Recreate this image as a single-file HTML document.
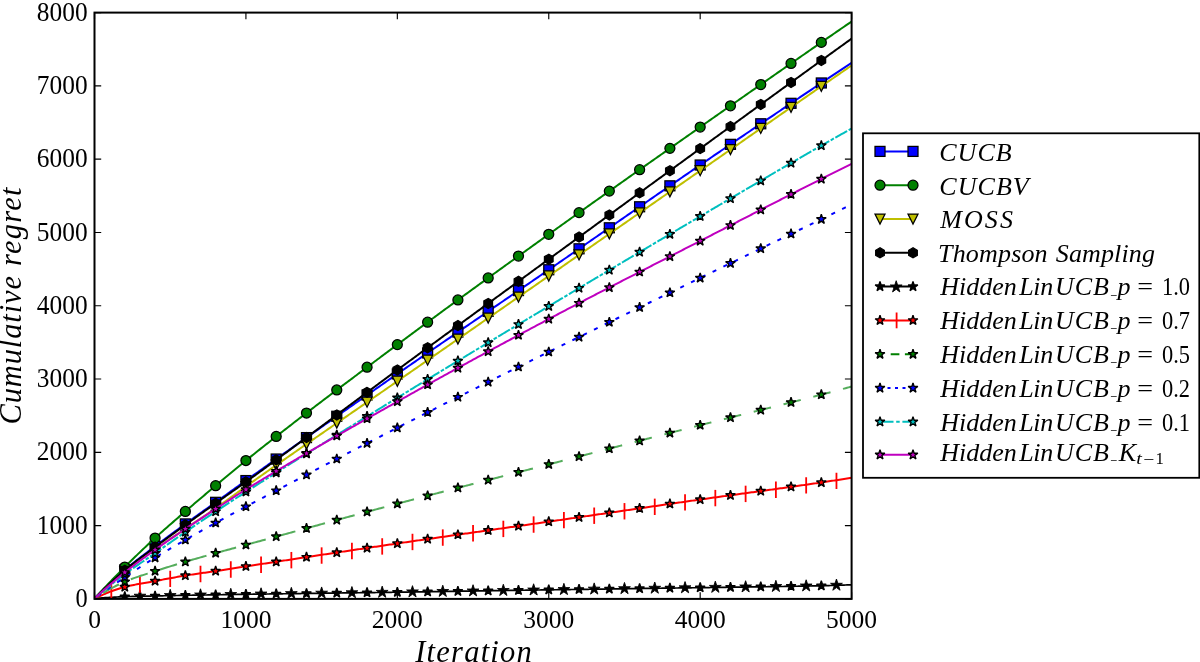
<!DOCTYPE html>
<html><head><meta charset="utf-8"><title>Cumulative regret</title>
<style>
html,body{margin:0;padding:0;background:#fff;}
body{width:1200px;height:662px;overflow:hidden;}
svg{display:block;}
svg text{font-family:"Liberation Serif","DejaVu Serif",serif;fill:#000;}
</style></head><body>
<svg width="1200" height="662" viewBox="0 0 1200 662">
<rect width="1200" height="662" fill="#fff"/>
<defs><clipPath id="ax"><rect x="94.5" y="12.6" width="757.1" height="586.3"/></clipPath></defs>
<g clip-path="url(#ax)">
<polyline points="94.5,598.5 96.01,596.95 97.53,595.42 99.04,593.89 100.56,592.38 102.07,590.88 103.59,589.39 105.1,587.92 106.61,586.45 108.13,585 109.64,583.56 111.16,582.14 112.67,580.73 114.18,579.33 115.7,577.94 117.21,576.57 118.73,575.22 120.24,573.87 121.76,572.55 123.27,571.23 124.78,569.93 126.3,568.65 127.81,567.39 129.33,566.14 130.84,564.91 132.35,563.69 133.87,562.49 135.38,561.3 136.9,560.12 138.41,558.95 139.93,557.78 141.44,556.63 142.95,555.48 144.47,554.33 145.98,553.19 147.5,552.05 149.01,550.91 150.53,549.78 152.04,548.64 153.55,547.49 155.07,546.35 156.58,545.2 158.1,544.05 159.61,542.91 161.12,541.78 162.64,540.64 164.15,539.51 165.67,538.38 167.18,537.26 168.7,536.14 170.21,535.02 171.72,533.9 173.24,532.78 174.75,531.67 176.27,530.56 177.78,529.45 179.3,528.34 180.81,527.24 182.32,526.13 183.84,525.03 185.35,523.93 186.87,522.83 188.38,521.74 189.89,520.65 191.41,519.56 192.92,518.48 194.44,517.4 195.95,516.32 197.47,515.24 198.98,514.16 200.49,513.09 202.01,512.01 203.52,510.94 205.04,509.87 206.55,508.79 208.06,507.72 209.58,506.64 211.09,505.56 212.61,504.49 214.12,503.41 215.64,502.32 217.15,501.24 218.66,500.15 220.18,499.06 221.69,497.98 223.21,496.89 224.72,495.8 226.24,494.71 227.75,493.62 229.26,492.52 230.78,491.43 232.29,490.34 233.81,489.25 235.32,488.16 236.83,487.07 238.35,485.99 239.86,484.9 241.38,483.81 242.89,482.73 244.41,481.65 245.92,480.57 247.43,479.49 248.95,478.41 250.46,477.33 251.98,476.25 253.49,475.17 255.01,474.1 256.52,473.02 258.03,471.94 259.55,470.86 261.06,469.79 262.58,468.71 264.09,467.63 265.6,466.56 267.12,465.48 268.63,464.41 270.15,463.33 271.66,462.26 273.18,461.18 274.69,460.11 276.2,459.03 277.72,457.96 279.23,456.88 280.75,455.81 282.26,454.74 283.77,453.66 285.29,452.59 286.8,451.52 288.32,450.45 289.83,449.37 291.35,448.3 292.86,447.23 294.37,446.16 295.89,445.09 297.4,444.02 298.92,442.95 300.43,441.88 301.95,440.81 303.46,439.74 304.97,438.67 306.49,437.6 308,436.53 309.52,435.46 311.03,434.39 312.54,433.33 314.06,432.26 315.57,431.19 317.09,430.12 318.6,429.06 320.12,427.99 321.63,426.92 323.14,425.86 324.66,424.79 326.17,423.72 327.69,422.66 329.2,421.59 330.72,420.53 332.23,419.46 333.74,418.4 335.26,417.34 336.77,416.27 338.29,415.21 339.8,414.14 341.31,413.08 342.83,412.02 344.34,410.95 345.86,409.89 347.37,408.83 348.89,407.77 350.4,406.71 351.91,405.64 353.43,404.58 354.94,403.52 356.46,402.46 357.97,401.4 359.49,400.34 361,399.28 362.51,398.22 364.03,397.16 365.54,396.1 367.06,395.04 368.57,393.98 370.08,392.93 371.6,391.87 373.11,390.81 374.63,389.75 376.14,388.69 377.66,387.64 379.17,386.58 380.68,385.52 382.2,384.47 383.71,383.41 385.23,382.35 386.74,381.3 388.25,380.24 389.77,379.19 391.28,378.13 392.8,377.08 394.31,376.02 395.83,374.97 397.34,373.92 398.85,372.86 400.37,371.81 401.88,370.76 403.4,369.7 404.91,368.65 406.43,367.6 407.94,366.55 409.45,365.5 410.97,364.45 412.48,363.4 414,362.35 415.51,361.31 417.02,360.26 418.54,359.21 420.05,358.16 421.57,357.12 423.08,356.07 424.6,355.03 426.11,353.98 427.62,352.94 429.14,351.89 430.65,350.85 432.17,349.8 433.68,348.76 435.19,347.72 436.71,346.67 438.22,345.63 439.74,344.59 441.25,343.55 442.77,342.5 444.28,341.46 445.79,340.42 447.31,339.38 448.82,338.34 450.34,337.3 451.85,336.26 453.37,335.22 454.88,334.18 456.39,333.14 457.91,332.1 459.42,331.06 460.94,330.02 462.45,328.98 463.96,327.95 465.48,326.91 466.99,325.87 468.51,324.83 470.02,323.79 471.54,322.76 473.05,321.72 474.56,320.68 476.08,319.64 477.59,318.6 479.11,317.57 480.62,316.53 482.14,315.49 483.65,314.45 485.16,313.42 486.68,312.38 488.19,311.34 489.71,310.31 491.22,309.27 492.73,308.23 494.25,307.19 495.76,306.16 497.28,305.12 498.79,304.08 500.31,303.04 501.82,302.01 503.33,300.97 504.85,299.93 506.36,298.89 507.88,297.85 509.39,296.82 510.9,295.78 512.42,294.74 513.93,293.7 515.45,292.66 516.96,291.62 518.48,290.58 519.99,289.55 521.5,288.51 523.02,287.47 524.53,286.43 526.05,285.39 527.56,284.35 529.08,283.31 530.59,282.26 532.1,281.22 533.62,280.18 535.13,279.14 536.65,278.1 538.16,277.06 539.67,276.02 541.19,274.97 542.7,273.93 544.22,272.89 545.73,271.84 547.25,270.8 548.76,269.75 550.27,268.71 551.79,267.66 553.3,266.62 554.82,265.57 556.33,264.53 557.85,263.48 559.36,262.43 560.87,261.39 562.39,260.34 563.9,259.29 565.42,258.24 566.93,257.2 568.44,256.15 569.96,255.1 571.47,254.05 572.99,253 574.5,251.95 576.02,250.9 577.53,249.85 579.04,248.81 580.56,247.76 582.07,246.71 583.59,245.66 585.1,244.6 586.62,243.55 588.13,242.5 589.64,241.45 591.16,240.4 592.67,239.35 594.19,238.3 595.7,237.25 597.21,236.2 598.73,235.15 600.24,234.1 601.76,233.04 603.27,231.99 604.79,230.94 606.3,229.89 607.81,228.84 609.33,227.79 610.84,226.74 612.36,225.68 613.87,224.63 615.38,223.58 616.9,222.53 618.41,221.48 619.93,220.43 621.44,219.38 622.96,218.32 624.47,217.27 625.98,216.22 627.5,215.17 629.01,214.12 630.53,213.07 632.04,212.02 633.56,210.97 635.07,209.92 636.58,208.87 638.1,207.82 639.61,206.77 641.13,205.72 642.64,204.67 644.15,203.62 645.67,202.57 647.18,201.52 648.7,200.47 650.21,199.42 651.73,198.38 653.24,197.33 654.75,196.28 656.27,195.23 657.78,194.19 659.3,193.14 660.81,192.09 662.33,191.05 663.84,190 665.35,188.95 666.87,187.91 668.38,186.86 669.9,185.82 671.41,184.77 672.92,183.73 674.44,182.69 675.95,181.64 677.47,180.6 678.98,179.56 680.5,178.51 682.01,177.47 683.52,176.43 685.04,175.39 686.55,174.35 688.07,173.31 689.58,172.27 691.09,171.23 692.61,170.19 694.12,169.15 695.64,168.12 697.15,167.08 698.67,166.04 700.18,165.01 701.69,163.97 703.21,162.94 704.72,161.9 706.24,160.86 707.75,159.83 709.27,158.8 710.78,157.76 712.29,156.73 713.81,155.69 715.32,154.66 716.84,153.63 718.35,152.59 719.86,151.56 721.38,150.53 722.89,149.5 724.41,148.46 725.92,147.43 727.44,146.4 728.95,145.37 730.46,144.34 731.98,143.31 733.49,142.28 735.01,141.25 736.52,140.22 738.03,139.19 739.55,138.16 741.06,137.13 742.58,136.1 744.09,135.07 745.61,134.04 747.12,133.01 748.63,131.98 750.15,130.96 751.66,129.93 753.18,128.9 754.69,127.88 756.21,126.85 757.72,125.82 759.23,124.8 760.75,123.77 762.26,122.75 763.78,121.72 765.29,120.7 766.8,119.67 768.32,118.65 769.83,117.62 771.35,116.6 772.86,115.57 774.38,114.55 775.89,113.53 777.4,112.51 778.92,111.48 780.43,110.46 781.95,109.44 783.46,108.42 784.98,107.4 786.49,106.37 788,105.35 789.52,104.33 791.03,103.31 792.55,102.29 794.06,101.27 795.57,100.25 797.09,99.23 798.6,98.22 800.12,97.2 801.63,96.18 803.15,95.16 804.66,94.14 806.17,93.13 807.69,92.11 809.2,91.09 810.72,90.07 812.23,89.06 813.75,88.04 815.26,87.03 816.77,86.01 818.29,85 819.8,83.98 821.32,82.97 822.83,81.95 824.34,80.94 825.86,79.93 827.37,78.92 828.89,77.91 830.4,76.9 831.92,75.89 833.43,74.88 834.94,73.87 836.46,72.87 837.97,71.86 839.49,70.86 841,69.85 842.51,68.85 844.03,67.84 845.54,66.84 847.06,65.83 848.57,64.83 850.09,63.83 851.6,62.82" fill="none" stroke="#0000ff" stroke-width="2.0"/>
<rect x="119.78" y="564.93" width="10" height="10" fill="#0000ff" stroke="#000" stroke-width="1.25"/><rect x="150.07" y="541.35" width="10" height="10" fill="#0000ff" stroke="#000" stroke-width="1.25"/><rect x="180.35" y="518.93" width="10" height="10" fill="#0000ff" stroke="#000" stroke-width="1.25"/><rect x="210.64" y="497.32" width="10" height="10" fill="#0000ff" stroke="#000" stroke-width="1.25"/><rect x="240.92" y="475.57" width="10" height="10" fill="#0000ff" stroke="#000" stroke-width="1.25"/><rect x="271.2" y="454.03" width="10" height="10" fill="#0000ff" stroke="#000" stroke-width="1.25"/><rect x="301.49" y="432.6" width="10" height="10" fill="#0000ff" stroke="#000" stroke-width="1.25"/><rect x="331.77" y="411.27" width="10" height="10" fill="#0000ff" stroke="#000" stroke-width="1.25"/><rect x="362.06" y="390.04" width="10" height="10" fill="#0000ff" stroke="#000" stroke-width="1.25"/><rect x="392.34" y="368.92" width="10" height="10" fill="#0000ff" stroke="#000" stroke-width="1.25"/><rect x="422.62" y="347.94" width="10" height="10" fill="#0000ff" stroke="#000" stroke-width="1.25"/><rect x="452.91" y="327.1" width="10" height="10" fill="#0000ff" stroke="#000" stroke-width="1.25"/><rect x="483.19" y="306.34" width="10" height="10" fill="#0000ff" stroke="#000" stroke-width="1.25"/><rect x="513.48" y="285.58" width="10" height="10" fill="#0000ff" stroke="#000" stroke-width="1.25"/><rect x="543.76" y="264.75" width="10" height="10" fill="#0000ff" stroke="#000" stroke-width="1.25"/><rect x="574.04" y="243.81" width="10" height="10" fill="#0000ff" stroke="#000" stroke-width="1.25"/><rect x="604.33" y="222.79" width="10" height="10" fill="#0000ff" stroke="#000" stroke-width="1.25"/><rect x="634.61" y="201.77" width="10" height="10" fill="#0000ff" stroke="#000" stroke-width="1.25"/><rect x="664.9" y="180.82" width="10" height="10" fill="#0000ff" stroke="#000" stroke-width="1.25"/><rect x="695.18" y="160.01" width="10" height="10" fill="#0000ff" stroke="#000" stroke-width="1.25"/><rect x="725.46" y="139.34" width="10" height="10" fill="#0000ff" stroke="#000" stroke-width="1.25"/><rect x="755.75" y="118.77" width="10" height="10" fill="#0000ff" stroke="#000" stroke-width="1.25"/><rect x="786.03" y="98.31" width="10" height="10" fill="#0000ff" stroke="#000" stroke-width="1.25"/><rect x="816.32" y="77.97" width="10" height="10" fill="#0000ff" stroke="#000" stroke-width="1.25"/>
<polyline points="94.5,598.5 96.01,596.87 97.53,595.24 99.04,593.62 100.56,592 102.07,590.39 103.59,588.79 105.1,587.19 106.61,585.6 108.13,584.01 109.64,582.43 111.16,580.86 112.67,579.3 114.18,577.74 115.7,576.18 117.21,574.64 118.73,573.1 120.24,571.56 121.76,570.04 123.27,568.52 124.78,567 126.3,565.5 127.81,563.99 129.33,562.5 130.84,561.01 132.35,559.52 133.87,558.05 135.38,556.57 136.9,555.11 138.41,553.65 139.93,552.19 141.44,550.74 142.95,549.3 144.47,547.87 145.98,546.44 147.5,545.01 149.01,543.6 150.53,542.19 152.04,540.78 153.55,539.39 155.07,538 156.58,536.61 158.1,535.24 159.61,533.87 161.12,532.52 162.64,531.16 164.15,529.82 165.67,528.48 167.18,527.15 168.7,525.82 170.21,524.5 171.72,523.18 173.24,521.87 174.75,520.55 176.27,519.24 177.78,517.94 179.3,516.63 180.81,515.32 182.32,514.02 183.84,512.71 185.35,511.41 186.87,510.1 188.38,508.8 189.89,507.5 191.41,506.2 192.92,504.91 194.44,503.61 195.95,502.32 197.47,501.03 198.98,499.75 200.49,498.46 202.01,497.18 203.52,495.9 205.04,494.62 206.55,493.34 208.06,492.07 209.58,490.79 211.09,489.52 212.61,488.24 214.12,486.97 215.64,485.69 217.15,484.42 218.66,483.15 220.18,481.87 221.69,480.6 223.21,479.32 224.72,478.05 226.24,476.77 227.75,475.5 229.26,474.23 230.78,472.96 232.29,471.7 233.81,470.43 235.32,469.17 236.83,467.92 238.35,466.67 239.86,465.42 241.38,464.18 242.89,462.95 244.41,461.72 245.92,460.5 247.43,459.28 248.95,458.06 250.46,456.85 251.98,455.64 253.49,454.43 255.01,453.22 256.52,452.01 258.03,450.81 259.55,449.6 261.06,448.4 262.58,447.2 264.09,446 265.6,444.8 267.12,443.61 268.63,442.41 270.15,441.22 271.66,440.03 273.18,438.84 274.69,437.65 276.2,436.46 277.72,435.28 279.23,434.1 280.75,432.91 282.26,431.73 283.77,430.55 285.29,429.37 286.8,428.2 288.32,427.02 289.83,425.85 291.35,424.67 292.86,423.5 294.37,422.33 295.89,421.16 297.4,419.99 298.92,418.83 300.43,417.66 301.95,416.5 303.46,415.33 304.97,414.17 306.49,413.01 308,411.85 309.52,410.69 311.03,409.53 312.54,408.38 314.06,407.22 315.57,406.06 317.09,404.91 318.6,403.76 320.12,402.6 321.63,401.45 323.14,400.3 324.66,399.15 326.17,398 327.69,396.86 329.2,395.71 330.72,394.56 332.23,393.42 333.74,392.27 335.26,391.13 336.77,389.98 338.29,388.84 339.8,387.7 341.31,386.56 342.83,385.42 344.34,384.28 345.86,383.14 347.37,382 348.89,380.86 350.4,379.72 351.91,378.58 353.43,377.45 354.94,376.31 356.46,375.18 357.97,374.04 359.49,372.9 361,371.77 362.51,370.64 364.03,369.5 365.54,368.37 367.06,367.24 368.57,366.1 370.08,364.97 371.6,363.84 373.11,362.71 374.63,361.57 376.14,360.44 377.66,359.31 379.17,358.18 380.68,357.05 382.2,355.92 383.71,354.79 385.23,353.66 386.74,352.53 388.25,351.4 389.77,350.27 391.28,349.14 392.8,348.01 394.31,346.88 395.83,345.75 397.34,344.62 398.85,343.49 400.37,342.36 401.88,341.23 403.4,340.1 404.91,338.97 406.43,337.85 407.94,336.72 409.45,335.6 410.97,334.47 412.48,333.35 414,332.23 415.51,331.11 417.02,329.98 418.54,328.86 420.05,327.74 421.57,326.63 423.08,325.51 424.6,324.39 426.11,323.27 427.62,322.16 429.14,321.04 430.65,319.92 432.17,318.81 433.68,317.7 435.19,316.58 436.71,315.47 438.22,314.36 439.74,313.25 441.25,312.13 442.77,311.02 444.28,309.91 445.79,308.8 447.31,307.7 448.82,306.59 450.34,305.48 451.85,304.37 453.37,303.27 454.88,302.16 456.39,301.05 457.91,299.95 459.42,298.84 460.94,297.74 462.45,296.64 463.96,295.53 465.48,294.43 466.99,293.33 468.51,292.23 470.02,291.13 471.54,290.02 473.05,288.92 474.56,287.82 476.08,286.72 477.59,285.62 479.11,284.53 480.62,283.43 482.14,282.33 483.65,281.23 485.16,280.13 486.68,279.04 488.19,277.94 489.71,276.85 491.22,275.75 492.73,274.65 494.25,273.56 495.76,272.46 497.28,271.37 498.79,270.28 500.31,269.18 501.82,268.09 503.33,266.99 504.85,265.9 506.36,264.81 507.88,263.72 509.39,262.62 510.9,261.53 512.42,260.44 513.93,259.35 515.45,258.26 516.96,257.17 518.48,256.08 519.99,254.99 521.5,253.9 523.02,252.81 524.53,251.72 526.05,250.63 527.56,249.54 529.08,248.45 530.59,247.36 532.1,246.27 533.62,245.18 535.13,244.09 536.65,243 538.16,241.92 539.67,240.83 541.19,239.74 542.7,238.65 544.22,237.56 545.73,236.48 547.25,235.39 548.76,234.3 550.27,233.21 551.79,232.13 553.3,231.04 554.82,229.95 556.33,228.87 557.85,227.78 559.36,226.7 560.87,225.61 562.39,224.53 563.9,223.45 565.42,222.36 566.93,221.28 568.44,220.2 569.96,219.12 571.47,218.04 572.99,216.96 574.5,215.88 576.02,214.8 577.53,213.72 579.04,212.64 580.56,211.56 582.07,210.48 583.59,209.4 585.1,208.32 586.62,207.24 588.13,206.17 589.64,205.09 591.16,204.01 592.67,202.94 594.19,201.86 595.7,200.79 597.21,199.71 598.73,198.63 600.24,197.56 601.76,196.49 603.27,195.41 604.79,194.34 606.3,193.26 607.81,192.19 609.33,191.12 610.84,190.04 612.36,188.97 613.87,187.9 615.38,186.83 616.9,185.76 618.41,184.69 619.93,183.61 621.44,182.54 622.96,181.47 624.47,180.4 625.98,179.33 627.5,178.26 629.01,177.19 630.53,176.12 632.04,175.05 633.56,173.98 635.07,172.91 636.58,171.85 638.1,170.78 639.61,169.71 641.13,168.64 642.64,167.57 644.15,166.5 645.67,165.44 647.18,164.37 648.7,163.3 650.21,162.23 651.73,161.17 653.24,160.1 654.75,159.03 656.27,157.97 657.78,156.9 659.3,155.83 660.81,154.77 662.33,153.7 663.84,152.63 665.35,151.57 666.87,150.5 668.38,149.43 669.9,148.37 671.41,147.3 672.92,146.24 674.44,145.17 675.95,144.11 677.47,143.04 678.98,141.98 680.5,140.91 682.01,139.84 683.52,138.78 685.04,137.71 686.55,136.65 688.07,135.58 689.58,134.52 691.09,133.45 692.61,132.39 694.12,131.32 695.64,130.26 697.15,129.19 698.67,128.13 700.18,127.06 701.69,126 703.21,124.93 704.72,123.87 706.24,122.8 707.75,121.74 709.27,120.67 710.78,119.61 712.29,118.55 713.81,117.48 715.32,116.42 716.84,115.35 718.35,114.29 719.86,113.23 721.38,112.16 722.89,111.1 724.41,110.04 725.92,108.97 727.44,107.91 728.95,106.85 730.46,105.79 731.98,104.72 733.49,103.66 735.01,102.6 736.52,101.54 738.03,100.48 739.55,99.41 741.06,98.35 742.58,97.29 744.09,96.23 745.61,95.17 747.12,94.11 748.63,93.05 750.15,91.99 751.66,90.93 753.18,89.87 754.69,88.81 756.21,87.75 757.72,86.69 759.23,85.63 760.75,84.57 762.26,83.51 763.78,82.45 765.29,81.39 766.8,80.34 768.32,79.28 769.83,78.22 771.35,77.16 772.86,76.1 774.38,75.05 775.89,73.99 777.4,72.93 778.92,71.88 780.43,70.82 781.95,69.76 783.46,68.71 784.98,67.65 786.49,66.6 788,65.54 789.52,64.49 791.03,63.43 792.55,62.38 794.06,61.32 795.57,60.27 797.09,59.21 798.6,58.16 800.12,57.11 801.63,56.05 803.15,55 804.66,53.95 806.17,52.9 807.69,51.84 809.2,50.79 810.72,49.74 812.23,48.69 813.75,47.64 815.26,46.59 816.77,45.54 818.29,44.49 819.8,43.44 821.32,42.39 822.83,41.34 824.34,40.29 825.86,39.24 827.37,38.19 828.89,37.15 830.4,36.1 831.92,35.06 833.43,34.01 834.94,32.97 836.46,31.93 837.97,30.88 839.49,29.84 841,28.8 842.51,27.76 844.03,26.72 845.54,25.67 847.06,24.63 848.57,23.59 850.09,22.55 851.6,21.51" fill="none" stroke="#008000" stroke-width="2.0"/>
<circle cx="124.78" cy="567" r="5" fill="#008000" stroke="#000" stroke-width="1.25"/><circle cx="155.07" cy="538" r="5" fill="#008000" stroke="#000" stroke-width="1.25"/><circle cx="185.35" cy="511.41" r="5" fill="#008000" stroke="#000" stroke-width="1.25"/><circle cx="215.64" cy="485.69" r="5" fill="#008000" stroke="#000" stroke-width="1.25"/><circle cx="245.92" cy="460.5" r="5" fill="#008000" stroke="#000" stroke-width="1.25"/><circle cx="276.2" cy="436.46" r="5" fill="#008000" stroke="#000" stroke-width="1.25"/><circle cx="306.49" cy="413.01" r="5" fill="#008000" stroke="#000" stroke-width="1.25"/><circle cx="336.77" cy="389.98" r="5" fill="#008000" stroke="#000" stroke-width="1.25"/><circle cx="367.06" cy="367.24" r="5" fill="#008000" stroke="#000" stroke-width="1.25"/><circle cx="397.34" cy="344.62" r="5" fill="#008000" stroke="#000" stroke-width="1.25"/><circle cx="427.62" cy="322.16" r="5" fill="#008000" stroke="#000" stroke-width="1.25"/><circle cx="457.91" cy="299.95" r="5" fill="#008000" stroke="#000" stroke-width="1.25"/><circle cx="488.19" cy="277.94" r="5" fill="#008000" stroke="#000" stroke-width="1.25"/><circle cx="518.48" cy="256.08" r="5" fill="#008000" stroke="#000" stroke-width="1.25"/><circle cx="548.76" cy="234.3" r="5" fill="#008000" stroke="#000" stroke-width="1.25"/><circle cx="579.04" cy="212.64" r="5" fill="#008000" stroke="#000" stroke-width="1.25"/><circle cx="609.33" cy="191.12" r="5" fill="#008000" stroke="#000" stroke-width="1.25"/><circle cx="639.61" cy="169.71" r="5" fill="#008000" stroke="#000" stroke-width="1.25"/><circle cx="669.9" cy="148.37" r="5" fill="#008000" stroke="#000" stroke-width="1.25"/><circle cx="700.18" cy="127.06" r="5" fill="#008000" stroke="#000" stroke-width="1.25"/><circle cx="730.46" cy="105.79" r="5" fill="#008000" stroke="#000" stroke-width="1.25"/><circle cx="760.75" cy="84.57" r="5" fill="#008000" stroke="#000" stroke-width="1.25"/><circle cx="791.03" cy="63.43" r="5" fill="#008000" stroke="#000" stroke-width="1.25"/><circle cx="821.32" cy="42.39" r="5" fill="#008000" stroke="#000" stroke-width="1.25"/>
<polyline points="94.5,598.5 96.01,597.04 97.53,595.59 99.04,594.15 100.56,592.73 102.07,591.31 103.59,589.91 105.1,588.51 106.61,587.13 108.13,585.76 109.64,584.41 111.16,583.06 112.67,581.73 114.18,580.41 115.7,579.11 117.21,577.81 118.73,576.53 120.24,575.26 121.76,574.01 123.27,572.77 124.78,571.54 126.3,570.33 127.81,569.14 129.33,567.96 130.84,566.79 132.35,565.64 133.87,564.49 135.38,563.36 136.9,562.24 138.41,561.13 139.93,560.03 141.44,558.94 142.95,557.85 144.47,556.77 145.98,555.69 147.5,554.61 149.01,553.54 150.53,552.48 152.04,551.41 153.55,550.34 155.07,549.28 156.58,548.21 158.1,547.16 159.61,546.11 161.12,545.07 162.64,544.03 164.15,543 165.67,541.97 167.18,540.95 168.7,539.93 170.21,538.92 171.72,537.9 173.24,536.89 174.75,535.88 176.27,534.87 177.78,533.85 179.3,532.84 180.81,531.83 182.32,530.81 183.84,529.79 185.35,528.77 186.87,527.74 188.38,526.72 189.89,525.7 191.41,524.68 192.92,523.67 194.44,522.65 195.95,521.64 197.47,520.62 198.98,519.6 200.49,518.59 202.01,517.57 203.52,516.55 205.04,515.52 206.55,514.5 208.06,513.47 209.58,512.44 211.09,511.4 212.61,510.36 214.12,509.31 215.64,508.26 217.15,507.2 218.66,506.13 220.18,505.06 221.69,503.98 223.21,502.89 224.72,501.81 226.24,500.71 227.75,499.62 229.26,498.52 230.78,497.42 232.29,496.32 233.81,495.22 235.32,494.12 236.83,493.03 238.35,491.93 239.86,490.84 241.38,489.75 242.89,488.66 244.41,487.58 245.92,486.5 247.43,485.43 248.95,484.35 250.46,483.28 251.98,482.21 253.49,481.14 255.01,480.07 256.52,479 258.03,477.94 259.55,476.87 261.06,475.8 262.58,474.74 264.09,473.67 265.6,472.61 267.12,471.54 268.63,470.48 270.15,469.42 271.66,468.36 273.18,467.3 274.69,466.24 276.2,465.18 277.72,464.12 279.23,463.06 280.75,462 282.26,460.94 283.77,459.89 285.29,458.83 286.8,457.78 288.32,456.72 289.83,455.67 291.35,454.61 292.86,453.56 294.37,452.5 295.89,451.45 297.4,450.4 298.92,449.35 300.43,448.29 301.95,447.24 303.46,446.19 304.97,445.14 306.49,444.09 308,443.04 309.52,441.99 311.03,440.94 312.54,439.89 314.06,438.84 315.57,437.8 317.09,436.75 318.6,435.7 320.12,434.65 321.63,433.61 323.14,432.56 324.66,431.51 326.17,430.46 327.69,429.42 329.2,428.37 330.72,427.33 332.23,426.28 333.74,425.23 335.26,424.19 336.77,423.14 338.29,422.1 339.8,421.05 341.31,420 342.83,418.96 344.34,417.91 345.86,416.87 347.37,415.82 348.89,414.78 350.4,413.73 351.91,412.68 353.43,411.64 354.94,410.59 356.46,409.55 357.97,408.5 359.49,407.46 361,406.41 362.51,405.36 364.03,404.32 365.54,403.27 367.06,402.22 368.57,401.18 370.08,400.13 371.6,399.08 373.11,398.04 374.63,396.99 376.14,395.94 377.66,394.89 379.17,393.84 380.68,392.8 382.2,391.75 383.71,390.7 385.23,389.65 386.74,388.6 388.25,387.55 389.77,386.5 391.28,385.45 392.8,384.4 394.31,383.34 395.83,382.29 397.34,381.24 398.85,380.19 400.37,379.14 401.88,378.08 403.4,377.03 404.91,375.98 406.43,374.92 407.94,373.87 409.45,372.82 410.97,371.77 412.48,370.71 414,369.66 415.51,368.61 417.02,367.56 418.54,366.5 420.05,365.45 421.57,364.4 423.08,363.35 424.6,362.29 426.11,361.24 427.62,360.19 429.14,359.14 430.65,358.08 432.17,357.03 433.68,355.98 435.19,354.93 436.71,353.87 438.22,352.82 439.74,351.77 441.25,350.72 442.77,349.66 444.28,348.61 445.79,347.56 447.31,346.5 448.82,345.45 450.34,344.4 451.85,343.35 453.37,342.29 454.88,341.24 456.39,340.19 457.91,339.14 459.42,338.08 460.94,337.03 462.45,335.98 463.96,334.93 465.48,333.87 466.99,332.82 468.51,331.77 470.02,330.72 471.54,329.66 473.05,328.61 474.56,327.56 476.08,326.51 477.59,325.45 479.11,324.4 480.62,323.35 482.14,322.29 483.65,321.24 485.16,320.19 486.68,319.14 488.19,318.08 489.71,317.03 491.22,315.98 492.73,314.93 494.25,313.87 495.76,312.82 497.28,311.77 498.79,310.72 500.31,309.66 501.82,308.61 503.33,307.56 504.85,306.51 506.36,305.45 507.88,304.4 509.39,303.35 510.9,302.3 512.42,301.24 513.93,300.19 515.45,299.14 516.96,298.08 518.48,297.03 519.99,295.98 521.5,294.93 523.02,293.87 524.53,292.82 526.05,291.77 527.56,290.72 529.08,289.66 530.59,288.61 532.1,287.56 533.62,286.51 535.13,285.45 536.65,284.4 538.16,283.35 539.67,282.3 541.19,281.24 542.7,280.19 544.22,279.14 545.73,278.09 547.25,277.03 548.76,275.98 550.27,274.93 551.79,273.88 553.3,272.82 554.82,271.77 556.33,270.72 557.85,269.67 559.36,268.61 560.87,267.56 562.39,266.51 563.9,265.46 565.42,264.4 566.93,263.35 568.44,262.3 569.96,261.25 571.47,260.19 572.99,259.14 574.5,258.09 576.02,257.04 577.53,255.98 579.04,254.93 580.56,253.88 582.07,252.83 583.59,251.78 585.1,250.72 586.62,249.67 588.13,248.62 589.64,247.57 591.16,246.51 592.67,245.46 594.19,244.41 595.7,243.36 597.21,242.3 598.73,241.25 600.24,240.2 601.76,239.15 603.27,238.1 604.79,237.04 606.3,235.99 607.81,234.94 609.33,233.89 610.84,232.83 612.36,231.78 613.87,230.73 615.38,229.68 616.9,228.63 618.41,227.57 619.93,226.52 621.44,225.47 622.96,224.42 624.47,223.36 625.98,222.31 627.5,221.26 629.01,220.21 630.53,219.15 632.04,218.1 633.56,217.05 635.07,216 636.58,214.95 638.1,213.89 639.61,212.84 641.13,211.79 642.64,210.74 644.15,209.68 645.67,208.63 647.18,207.58 648.7,206.53 650.21,205.47 651.73,204.42 653.24,203.37 654.75,202.31 656.27,201.26 657.78,200.21 659.3,199.16 660.81,198.1 662.33,197.05 663.84,196 665.35,194.95 666.87,193.89 668.38,192.84 669.9,191.79 671.41,190.73 672.92,189.68 674.44,188.63 675.95,187.57 677.47,186.52 678.98,185.47 680.5,184.42 682.01,183.36 683.52,182.31 685.04,181.26 686.55,180.2 688.07,179.15 689.58,178.1 691.09,177.04 692.61,175.99 694.12,174.93 695.64,173.88 697.15,172.83 698.67,171.77 700.18,170.72 701.69,169.67 703.21,168.61 704.72,167.56 706.24,166.5 707.75,165.45 709.27,164.39 710.78,163.34 712.29,162.28 713.81,161.23 715.32,160.17 716.84,159.12 718.35,158.06 719.86,157.01 721.38,155.95 722.89,154.89 724.41,153.84 725.92,152.78 727.44,151.72 728.95,150.67 730.46,149.61 731.98,148.55 733.49,147.5 735.01,146.44 736.52,145.38 738.03,144.33 739.55,143.27 741.06,142.21 742.58,141.16 744.09,140.1 745.61,139.04 747.12,137.98 748.63,136.93 750.15,135.87 751.66,134.81 753.18,133.76 754.69,132.7 756.21,131.64 757.72,130.59 759.23,129.53 760.75,128.47 762.26,127.42 763.78,126.36 765.29,125.3 766.8,124.25 768.32,123.19 769.83,122.13 771.35,121.08 772.86,120.02 774.38,118.97 775.89,117.91 777.4,116.85 778.92,115.8 780.43,114.74 781.95,113.69 783.46,112.63 784.98,111.58 786.49,110.52 788,109.47 789.52,108.42 791.03,107.36 792.55,106.31 794.06,105.25 795.57,104.2 797.09,103.15 798.6,102.09 800.12,101.04 801.63,99.99 803.15,98.94 804.66,97.89 806.17,96.83 807.69,95.78 809.2,94.73 810.72,93.68 812.23,92.63 813.75,91.58 815.26,90.53 816.77,89.48 818.29,88.43 819.8,87.38 821.32,86.34 822.83,85.29 824.34,84.24 825.86,83.19 827.37,82.15 828.89,81.1 830.4,80.06 831.92,79.01 833.43,77.97 834.94,76.92 836.46,75.88 837.97,74.84 839.49,73.8 841,72.75 842.51,71.71 844.03,70.67 845.54,69.63 847.06,68.58 848.57,67.54 850.09,66.5 851.6,65.46" fill="none" stroke="#bfbf00" stroke-width="2.0"/>
<path d="M119.78 566.54L129.78 566.54L124.78 576.54Z" fill="#bfbf00" stroke="#000" stroke-width="1.25" stroke-linejoin="miter"/><path d="M150.07 544.28L160.07 544.28L155.07 554.28Z" fill="#bfbf00" stroke="#000" stroke-width="1.25" stroke-linejoin="miter"/><path d="M180.35 523.77L190.35 523.77L185.35 533.77Z" fill="#bfbf00" stroke="#000" stroke-width="1.25" stroke-linejoin="miter"/><path d="M210.64 503.26L220.64 503.26L215.64 513.26Z" fill="#bfbf00" stroke="#000" stroke-width="1.25" stroke-linejoin="miter"/><path d="M240.92 481.5L250.92 481.5L245.92 491.5Z" fill="#bfbf00" stroke="#000" stroke-width="1.25" stroke-linejoin="miter"/><path d="M271.2 460.18L281.2 460.18L276.2 470.18Z" fill="#bfbf00" stroke="#000" stroke-width="1.25" stroke-linejoin="miter"/><path d="M301.49 439.09L311.49 439.09L306.49 449.09Z" fill="#bfbf00" stroke="#000" stroke-width="1.25" stroke-linejoin="miter"/><path d="M331.77 418.14L341.77 418.14L336.77 428.14Z" fill="#bfbf00" stroke="#000" stroke-width="1.25" stroke-linejoin="miter"/><path d="M362.06 397.22L372.06 397.22L367.06 407.22Z" fill="#bfbf00" stroke="#000" stroke-width="1.25" stroke-linejoin="miter"/><path d="M392.34 376.24L402.34 376.24L397.34 386.24Z" fill="#bfbf00" stroke="#000" stroke-width="1.25" stroke-linejoin="miter"/><path d="M422.62 355.19L432.62 355.19L427.62 365.19Z" fill="#bfbf00" stroke="#000" stroke-width="1.25" stroke-linejoin="miter"/><path d="M452.91 334.14L462.91 334.14L457.91 344.14Z" fill="#bfbf00" stroke="#000" stroke-width="1.25" stroke-linejoin="miter"/><path d="M483.19 313.08L493.19 313.08L488.19 323.08Z" fill="#bfbf00" stroke="#000" stroke-width="1.25" stroke-linejoin="miter"/><path d="M513.48 292.03L523.48 292.03L518.48 302.03Z" fill="#bfbf00" stroke="#000" stroke-width="1.25" stroke-linejoin="miter"/><path d="M543.76 270.98L553.76 270.98L548.76 280.98Z" fill="#bfbf00" stroke="#000" stroke-width="1.25" stroke-linejoin="miter"/><path d="M574.04 249.93L584.04 249.93L579.04 259.93Z" fill="#bfbf00" stroke="#000" stroke-width="1.25" stroke-linejoin="miter"/><path d="M604.33 228.89L614.33 228.89L609.33 238.89Z" fill="#bfbf00" stroke="#000" stroke-width="1.25" stroke-linejoin="miter"/><path d="M634.61 207.84L644.61 207.84L639.61 217.84Z" fill="#bfbf00" stroke="#000" stroke-width="1.25" stroke-linejoin="miter"/><path d="M664.9 186.79L674.9 186.79L669.9 196.79Z" fill="#bfbf00" stroke="#000" stroke-width="1.25" stroke-linejoin="miter"/><path d="M695.18 165.72L705.18 165.72L700.18 175.72Z" fill="#bfbf00" stroke="#000" stroke-width="1.25" stroke-linejoin="miter"/><path d="M725.46 144.61L735.46 144.61L730.46 154.61Z" fill="#bfbf00" stroke="#000" stroke-width="1.25" stroke-linejoin="miter"/><path d="M755.75 123.47L765.75 123.47L760.75 133.47Z" fill="#bfbf00" stroke="#000" stroke-width="1.25" stroke-linejoin="miter"/><path d="M786.03 102.36L796.03 102.36L791.03 112.36Z" fill="#bfbf00" stroke="#000" stroke-width="1.25" stroke-linejoin="miter"/><path d="M816.32 81.34L826.32 81.34L821.32 91.34Z" fill="#bfbf00" stroke="#000" stroke-width="1.25" stroke-linejoin="miter"/>
<polyline points="94.5,598.5 96.01,596.97 97.53,595.45 99.04,593.95 100.56,592.45 102.07,590.97 103.59,589.5 105.1,588.04 106.61,586.6 108.13,585.17 109.64,583.75 111.16,582.34 112.67,580.95 114.18,579.57 115.7,578.2 117.21,576.85 118.73,575.51 120.24,574.19 121.76,572.88 123.27,571.58 124.78,570.3 126.3,569.03 127.81,567.79 129.33,566.56 130.84,565.35 132.35,564.15 133.87,562.97 135.38,561.8 136.9,560.64 138.41,559.49 139.93,558.34 141.44,557.21 142.95,556.08 144.47,554.95 145.98,553.83 147.5,552.7 149.01,551.58 150.53,550.46 152.04,549.34 153.55,548.21 155.07,547.08 156.58,545.95 158.1,544.82 159.61,543.69 161.12,542.57 162.64,541.45 164.15,540.33 165.67,539.21 167.18,538.1 168.7,536.99 170.21,535.88 171.72,534.78 173.24,533.67 174.75,532.57 176.27,531.47 177.78,530.37 179.3,529.27 180.81,528.17 182.32,527.07 183.84,525.98 185.35,524.88 186.87,523.79 188.38,522.7 189.89,521.61 191.41,520.52 192.92,519.44 194.44,518.35 195.95,517.27 197.47,516.19 198.98,515.11 200.49,514.03 202.01,512.95 203.52,511.87 205.04,510.8 206.55,509.72 208.06,508.65 209.58,507.57 211.09,506.5 212.61,505.42 214.12,504.35 215.64,503.27 217.15,502.2 218.66,501.13 220.18,500.06 221.69,499 223.21,497.93 224.72,496.87 226.24,495.8 227.75,494.74 229.26,493.68 230.78,492.61 232.29,491.55 233.81,490.49 235.32,489.42 236.83,488.35 238.35,487.28 239.86,486.21 241.38,485.13 242.89,484.05 244.41,482.97 245.92,481.89 247.43,480.8 248.95,479.71 250.46,478.62 251.98,477.52 253.49,476.43 255.01,475.33 256.52,474.24 258.03,473.14 259.55,472.04 261.06,470.94 262.58,469.84 264.09,468.74 265.6,467.63 267.12,466.53 268.63,465.42 270.15,464.31 271.66,463.21 273.18,462.1 274.69,460.99 276.2,459.88 277.72,458.77 279.23,457.65 280.75,456.54 282.26,455.43 283.77,454.31 285.29,453.2 286.8,452.08 288.32,450.96 289.83,449.85 291.35,448.73 292.86,447.61 294.37,446.49 295.89,445.37 297.4,444.24 298.92,443.12 300.43,442 301.95,440.88 303.46,439.75 304.97,438.63 306.49,437.51 308,436.38 309.52,435.25 311.03,434.13 312.54,433 314.06,431.88 315.57,430.75 317.09,429.62 318.6,428.49 320.12,427.36 321.63,426.24 323.14,425.11 324.66,423.98 326.17,422.85 327.69,421.72 329.2,420.59 330.72,419.46 332.23,418.33 333.74,417.2 335.26,416.07 336.77,414.94 338.29,413.81 339.8,412.68 341.31,411.55 342.83,410.42 344.34,409.29 345.86,408.16 347.37,407.03 348.89,405.9 350.4,404.78 351.91,403.65 353.43,402.52 354.94,401.39 356.46,400.26 357.97,399.13 359.49,398 361,396.88 362.51,395.75 364.03,394.62 365.54,393.5 367.06,392.37 368.57,391.24 370.08,390.12 371.6,388.99 373.11,387.87 374.63,386.74 376.14,385.62 377.66,384.5 379.17,383.38 380.68,382.25 382.2,381.13 383.71,380.01 385.23,378.89 386.74,377.77 388.25,376.65 389.77,375.54 391.28,374.42 392.8,373.3 394.31,372.19 395.83,371.07 397.34,369.96 398.85,368.85 400.37,367.73 401.88,366.62 403.4,365.51 404.91,364.4 406.43,363.28 407.94,362.17 409.45,361.06 410.97,359.95 412.48,358.84 414,357.73 415.51,356.61 417.02,355.5 418.54,354.39 420.05,353.28 421.57,352.17 423.08,351.06 424.6,349.95 426.11,348.84 427.62,347.73 429.14,346.62 430.65,345.51 432.17,344.4 433.68,343.3 435.19,342.19 436.71,341.08 438.22,339.97 439.74,338.86 441.25,337.75 442.77,336.64 444.28,335.54 445.79,334.43 447.31,333.32 448.82,332.21 450.34,331.1 451.85,330 453.37,328.89 454.88,327.78 456.39,326.67 457.91,325.57 459.42,324.46 460.94,323.35 462.45,322.25 463.96,321.14 465.48,320.03 466.99,318.93 468.51,317.82 470.02,316.71 471.54,315.61 473.05,314.5 474.56,313.39 476.08,312.29 477.59,311.18 479.11,310.08 480.62,308.97 482.14,307.86 483.65,306.76 485.16,305.65 486.68,304.55 488.19,303.44 489.71,302.34 491.22,301.23 492.73,300.12 494.25,299.02 495.76,297.91 497.28,296.81 498.79,295.7 500.31,294.6 501.82,293.49 503.33,292.38 504.85,291.28 506.36,290.17 507.88,289.07 509.39,287.96 510.9,286.86 512.42,285.75 513.93,284.65 515.45,283.54 516.96,282.43 518.48,281.33 519.99,280.22 521.5,279.12 523.02,278.01 524.53,276.91 526.05,275.8 527.56,274.69 529.08,273.59 530.59,272.48 532.1,271.38 533.62,270.27 535.13,269.16 536.65,268.06 538.16,266.95 539.67,265.85 541.19,264.74 542.7,263.63 544.22,262.53 545.73,261.42 547.25,260.31 548.76,259.21 550.27,258.1 551.79,256.99 553.3,255.89 554.82,254.78 556.33,253.67 557.85,252.56 559.36,251.46 560.87,250.35 562.39,249.24 563.9,248.14 565.42,247.03 566.93,245.92 568.44,244.82 569.96,243.71 571.47,242.6 572.99,241.5 574.5,240.39 576.02,239.28 577.53,238.17 579.04,237.07 580.56,235.96 582.07,234.85 583.59,233.75 585.1,232.64 586.62,231.53 588.13,230.43 589.64,229.32 591.16,228.21 592.67,227.1 594.19,226 595.7,224.89 597.21,223.78 598.73,222.68 600.24,221.57 601.76,220.46 603.27,219.36 604.79,218.25 606.3,217.14 607.81,216.04 609.33,214.93 610.84,213.82 612.36,212.72 613.87,211.61 615.38,210.5 616.9,209.4 618.41,208.29 619.93,207.18 621.44,206.08 622.96,204.97 624.47,203.86 625.98,202.76 627.5,201.65 629.01,200.54 630.53,199.44 632.04,198.33 633.56,197.23 635.07,196.12 636.58,195.01 638.1,193.91 639.61,192.8 641.13,191.69 642.64,190.59 644.15,189.48 645.67,188.38 647.18,187.27 648.7,186.16 650.21,185.06 651.73,183.95 653.24,182.85 654.75,181.74 656.27,180.64 657.78,179.53 659.3,178.42 660.81,177.32 662.33,176.21 663.84,175.11 665.35,174 666.87,172.9 668.38,171.79 669.9,170.69 671.41,169.58 672.92,168.48 674.44,167.37 675.95,166.27 677.47,165.16 678.98,164.06 680.5,162.95 682.01,161.85 683.52,160.74 685.04,159.64 686.55,158.53 688.07,157.43 689.58,156.33 691.09,155.22 692.61,154.12 694.12,153.01 695.64,151.91 697.15,150.81 698.67,149.7 700.18,148.6 701.69,147.49 703.21,146.39 704.72,145.29 706.24,144.18 707.75,143.08 709.27,141.98 710.78,140.87 712.29,139.77 713.81,138.66 715.32,137.56 716.84,136.46 718.35,135.35 719.86,134.25 721.38,133.14 722.89,132.04 724.41,130.94 725.92,129.83 727.44,128.73 728.95,127.62 730.46,126.52 731.98,125.42 733.49,124.31 735.01,123.21 736.52,122.11 738.03,121 739.55,119.9 741.06,118.8 742.58,117.69 744.09,116.59 745.61,115.49 747.12,114.38 748.63,113.28 750.15,112.18 751.66,111.07 753.18,109.97 754.69,108.87 756.21,107.76 757.72,106.66 759.23,105.56 760.75,104.46 762.26,103.35 763.78,102.25 765.29,101.15 766.8,100.05 768.32,98.95 769.83,97.84 771.35,96.74 772.86,95.64 774.38,94.54 775.89,93.44 777.4,92.34 778.92,91.23 780.43,90.13 781.95,89.03 783.46,87.93 784.98,86.83 786.49,85.73 788,84.63 789.52,83.53 791.03,82.43 792.55,81.33 794.06,80.23 795.57,79.13 797.09,78.03 798.6,76.94 800.12,75.84 801.63,74.74 803.15,73.64 804.66,72.54 806.17,71.44 807.69,70.35 809.2,69.25 810.72,68.15 812.23,67.06 813.75,65.96 815.26,64.86 816.77,63.77 818.29,62.67 819.8,61.57 821.32,60.48 822.83,59.38 824.34,58.29 825.86,57.2 827.37,56.1 828.89,55.01 830.4,53.92 831.92,52.82 833.43,51.73 834.94,50.64 836.46,49.55 837.97,48.46 839.49,47.37 841,46.28 842.51,45.19 844.03,44.1 845.54,43.01 847.06,41.92 848.57,40.83 850.09,39.74 851.6,38.65" fill="none" stroke="#000" stroke-width="2.0"/>
<path d="M124.78 565.3L120.45 567.8L120.45 572.8L124.78 575.3L129.11 572.8L129.11 567.8Z" fill="#000" stroke="#000" stroke-width="1.25"/><path d="M155.07 542.08L150.74 544.58L150.74 549.58L155.07 552.08L159.4 549.58L159.4 544.58Z" fill="#000" stroke="#000" stroke-width="1.25"/><path d="M185.35 519.88L181.02 522.38L181.02 527.38L185.35 529.88L189.68 527.38L189.68 522.38Z" fill="#000" stroke="#000" stroke-width="1.25"/><path d="M215.64 498.27L211.31 500.77L211.31 505.77L215.64 508.27L219.97 505.77L219.97 500.77Z" fill="#000" stroke="#000" stroke-width="1.25"/><path d="M245.92 476.89L241.59 479.39L241.59 484.39L245.92 486.89L250.25 484.39L250.25 479.39Z" fill="#000" stroke="#000" stroke-width="1.25"/><path d="M276.2 454.88L271.87 457.38L271.87 462.38L276.2 464.88L280.53 462.38L280.53 457.38Z" fill="#000" stroke="#000" stroke-width="1.25"/><path d="M306.49 432.51L302.16 435.01L302.16 440.01L306.49 442.51L310.82 440.01L310.82 435.01Z" fill="#000" stroke="#000" stroke-width="1.25"/><path d="M336.77 409.94L332.44 412.44L332.44 417.44L336.77 419.94L341.1 417.44L341.1 412.44Z" fill="#000" stroke="#000" stroke-width="1.25"/><path d="M367.06 387.37L362.73 389.87L362.73 394.87L367.06 397.37L371.39 394.87L371.39 389.87Z" fill="#000" stroke="#000" stroke-width="1.25"/><path d="M397.34 364.96L393.01 367.46L393.01 372.46L397.34 374.96L401.67 372.46L401.67 367.46Z" fill="#000" stroke="#000" stroke-width="1.25"/><path d="M427.62 342.73L423.29 345.23L423.29 350.23L427.62 352.73L431.95 350.23L431.95 345.23Z" fill="#000" stroke="#000" stroke-width="1.25"/><path d="M457.91 320.57L453.58 323.07L453.58 328.07L457.91 330.57L462.24 328.07L462.24 323.07Z" fill="#000" stroke="#000" stroke-width="1.25"/><path d="M488.19 298.44L483.86 300.94L483.86 305.94L488.19 308.44L492.52 305.94L492.52 300.94Z" fill="#000" stroke="#000" stroke-width="1.25"/><path d="M518.48 276.33L514.15 278.83L514.15 283.83L518.48 286.33L522.81 283.83L522.81 278.83Z" fill="#000" stroke="#000" stroke-width="1.25"/><path d="M548.76 254.21L544.43 256.71L544.43 261.71L548.76 264.21L553.09 261.71L553.09 256.71Z" fill="#000" stroke="#000" stroke-width="1.25"/><path d="M579.04 232.07L574.71 234.57L574.71 239.57L579.04 242.07L583.37 239.57L583.37 234.57Z" fill="#000" stroke="#000" stroke-width="1.25"/><path d="M609.33 209.93L605 212.43L605 217.43L609.33 219.93L613.66 217.43L613.66 212.43Z" fill="#000" stroke="#000" stroke-width="1.25"/><path d="M639.61 187.8L635.28 190.3L635.28 195.3L639.61 197.8L643.94 195.3L643.94 190.3Z" fill="#000" stroke="#000" stroke-width="1.25"/><path d="M669.9 165.69L665.57 168.19L665.57 173.19L669.9 175.69L674.23 173.19L674.23 168.19Z" fill="#000" stroke="#000" stroke-width="1.25"/><path d="M700.18 143.6L695.85 146.1L695.85 151.1L700.18 153.6L704.51 151.1L704.51 146.1Z" fill="#000" stroke="#000" stroke-width="1.25"/><path d="M730.46 121.52L726.13 124.02L726.13 129.02L730.46 131.52L734.79 129.02L734.79 124.02Z" fill="#000" stroke="#000" stroke-width="1.25"/><path d="M760.75 99.46L756.42 101.96L756.42 106.96L760.75 109.46L765.08 106.96L765.08 101.96Z" fill="#000" stroke="#000" stroke-width="1.25"/><path d="M791.03 77.43L786.7 79.93L786.7 84.93L791.03 87.43L795.36 84.93L795.36 79.93Z" fill="#000" stroke="#000" stroke-width="1.25"/><path d="M821.32 55.48L816.99 57.98L816.99 62.98L821.32 65.48L825.65 62.98L825.65 57.98Z" fill="#000" stroke="#000" stroke-width="1.25"/>
<polyline points="94.5,598.5 96.01,598.38 97.53,598.27 99.04,598.15 100.56,598.04 102.07,597.93 103.59,597.82 105.1,597.72 106.61,597.61 108.13,597.51 109.64,597.42 111.16,597.32 112.67,597.24 114.18,597.15 115.7,597.07 117.21,596.99 118.73,596.92 120.24,596.85 121.76,596.78 123.27,596.72 124.78,596.67 126.3,596.62 127.81,596.57 129.33,596.52 130.84,596.48 132.35,596.44 133.87,596.4 135.38,596.36 136.9,596.32 138.41,596.29 139.93,596.25 141.44,596.22 142.95,596.19 144.47,596.16 145.98,596.12 147.5,596.09 149.01,596.06 150.53,596.03 152.04,596 153.55,595.97 155.07,595.94 156.58,595.9 158.1,595.87 159.61,595.84 161.12,595.81 162.64,595.78 164.15,595.75 165.67,595.72 167.18,595.69 168.7,595.66 170.21,595.63 171.72,595.6 173.24,595.57 174.75,595.54 176.27,595.52 177.78,595.49 179.3,595.46 180.81,595.43 182.32,595.41 183.84,595.38 185.35,595.35 186.87,595.32 188.38,595.3 189.89,595.27 191.41,595.24 192.92,595.22 194.44,595.19 195.95,595.17 197.47,595.14 198.98,595.11 200.49,595.09 202.01,595.06 203.52,595.04 205.04,595.01 206.55,594.99 208.06,594.96 209.58,594.94 211.09,594.91 212.61,594.89 214.12,594.86 215.64,594.84 217.15,594.81 218.66,594.79 220.18,594.76 221.69,594.73 223.21,594.71 224.72,594.68 226.24,594.65 227.75,594.63 229.26,594.6 230.78,594.58 232.29,594.55 233.81,594.52 235.32,594.5 236.83,594.47 238.35,594.45 239.86,594.42 241.38,594.4 242.89,594.37 244.41,594.35 245.92,594.32 247.43,594.3 248.95,594.28 250.46,594.25 251.98,594.23 253.49,594.21 255.01,594.18 256.52,594.16 258.03,594.14 259.55,594.12 261.06,594.09 262.58,594.07 264.09,594.05 265.6,594.03 267.12,594 268.63,593.98 270.15,593.96 271.66,593.94 273.18,593.92 274.69,593.89 276.2,593.87 277.72,593.85 279.23,593.83 280.75,593.81 282.26,593.79 283.77,593.76 285.29,593.74 286.8,593.72 288.32,593.7 289.83,593.68 291.35,593.66 292.86,593.64 294.37,593.62 295.89,593.59 297.4,593.57 298.92,593.55 300.43,593.53 301.95,593.51 303.46,593.49 304.97,593.47 306.49,593.45 308,593.43 309.52,593.41 311.03,593.39 312.54,593.37 314.06,593.35 315.57,593.33 317.09,593.31 318.6,593.29 320.12,593.26 321.63,593.24 323.14,593.22 324.66,593.2 326.17,593.18 327.69,593.16 329.2,593.14 330.72,593.12 332.23,593.1 333.74,593.08 335.26,593.06 336.77,593.04 338.29,593.02 339.8,593 341.31,592.98 342.83,592.96 344.34,592.94 345.86,592.92 347.37,592.9 348.89,592.88 350.4,592.86 351.91,592.84 353.43,592.82 354.94,592.8 356.46,592.78 357.97,592.76 359.49,592.73 361,592.71 362.51,592.69 364.03,592.67 365.54,592.65 367.06,592.63 368.57,592.61 370.08,592.59 371.6,592.57 373.11,592.55 374.63,592.53 376.14,592.5 377.66,592.48 379.17,592.46 380.68,592.44 382.2,592.42 383.71,592.4 385.23,592.38 386.74,592.35 388.25,592.33 389.77,592.31 391.28,592.29 392.8,592.27 394.31,592.24 395.83,592.22 397.34,592.2 398.85,592.18 400.37,592.16 401.88,592.13 403.4,592.11 404.91,592.09 406.43,592.07 407.94,592.04 409.45,592.02 410.97,592 412.48,591.97 414,591.95 415.51,591.93 417.02,591.91 418.54,591.88 420.05,591.86 421.57,591.84 423.08,591.81 424.6,591.79 426.11,591.77 427.62,591.74 429.14,591.72 430.65,591.7 432.17,591.67 433.68,591.65 435.19,591.63 436.71,591.6 438.22,591.58 439.74,591.56 441.25,591.53 442.77,591.51 444.28,591.49 445.79,591.46 447.31,591.44 448.82,591.41 450.34,591.39 451.85,591.37 453.37,591.34 454.88,591.32 456.39,591.3 457.91,591.27 459.42,591.25 460.94,591.22 462.45,591.2 463.96,591.18 465.48,591.15 466.99,591.13 468.51,591.11 470.02,591.08 471.54,591.06 473.05,591.03 474.56,591.01 476.08,590.99 477.59,590.96 479.11,590.94 480.62,590.91 482.14,590.89 483.65,590.87 485.16,590.84 486.68,590.82 488.19,590.79 489.71,590.77 491.22,590.75 492.73,590.72 494.25,590.7 495.76,590.67 497.28,590.65 498.79,590.63 500.31,590.6 501.82,590.58 503.33,590.56 504.85,590.53 506.36,590.51 507.88,590.48 509.39,590.46 510.9,590.44 512.42,590.41 513.93,590.39 515.45,590.37 516.96,590.34 518.48,590.32 519.99,590.3 521.5,590.27 523.02,590.25 524.53,590.23 526.05,590.2 527.56,590.18 529.08,590.16 530.59,590.13 532.1,590.11 533.62,590.09 535.13,590.06 536.65,590.04 538.16,590.02 539.67,589.99 541.19,589.97 542.7,589.95 544.22,589.92 545.73,589.9 547.25,589.88 548.76,589.86 550.27,589.83 551.79,589.81 553.3,589.79 554.82,589.77 556.33,589.74 557.85,589.72 559.36,589.7 560.87,589.68 562.39,589.65 563.9,589.63 565.42,589.61 566.93,589.59 568.44,589.57 569.96,589.54 571.47,589.52 572.99,589.5 574.5,589.48 576.02,589.45 577.53,589.43 579.04,589.41 580.56,589.39 582.07,589.37 583.59,589.35 585.1,589.32 586.62,589.3 588.13,589.28 589.64,589.26 591.16,589.24 592.67,589.21 594.19,589.19 595.7,589.17 597.21,589.15 598.73,589.13 600.24,589.11 601.76,589.08 603.27,589.06 604.79,589.04 606.3,589.02 607.81,589 609.33,588.98 610.84,588.95 612.36,588.93 613.87,588.91 615.38,588.89 616.9,588.87 618.41,588.85 619.93,588.83 621.44,588.8 622.96,588.78 624.47,588.76 625.98,588.74 627.5,588.72 629.01,588.7 630.53,588.67 632.04,588.65 633.56,588.63 635.07,588.61 636.58,588.59 638.1,588.57 639.61,588.54 641.13,588.52 642.64,588.5 644.15,588.48 645.67,588.46 647.18,588.44 648.7,588.41 650.21,588.39 651.73,588.37 653.24,588.35 654.75,588.33 656.27,588.31 657.78,588.28 659.3,588.26 660.81,588.24 662.33,588.22 663.84,588.2 665.35,588.17 666.87,588.15 668.38,588.13 669.9,588.11 671.41,588.09 672.92,588.06 674.44,588.04 675.95,588.02 677.47,588 678.98,587.97 680.5,587.95 682.01,587.93 683.52,587.91 685.04,587.89 686.55,587.86 688.07,587.84 689.58,587.82 691.09,587.8 692.61,587.77 694.12,587.75 695.64,587.73 697.15,587.7 698.67,587.68 700.18,587.66 701.69,587.64 703.21,587.61 704.72,587.59 706.24,587.57 707.75,587.55 709.27,587.53 710.78,587.5 712.29,587.48 713.81,587.46 715.32,587.44 716.84,587.42 718.35,587.4 719.86,587.38 721.38,587.36 722.89,587.33 724.41,587.31 725.92,587.29 727.44,587.27 728.95,587.25 730.46,587.23 731.98,587.21 733.49,587.19 735.01,587.17 736.52,587.15 738.03,587.13 739.55,587.11 741.06,587.09 742.58,587.07 744.09,587.05 745.61,587.03 747.12,587.01 748.63,586.99 750.15,586.97 751.66,586.94 753.18,586.92 754.69,586.9 756.21,586.88 757.72,586.86 759.23,586.84 760.75,586.82 762.26,586.8 763.78,586.77 765.29,586.75 766.8,586.73 768.32,586.71 769.83,586.69 771.35,586.66 772.86,586.64 774.38,586.62 775.89,586.59 777.4,586.57 778.92,586.55 780.43,586.52 781.95,586.5 783.46,586.48 784.98,586.45 786.49,586.43 788,586.4 789.52,586.37 791.03,586.35 792.55,586.32 794.06,586.3 795.57,586.27 797.09,586.24 798.6,586.21 800.12,586.19 801.63,586.16 803.15,586.13 804.66,586.1 806.17,586.07 807.69,586.04 809.2,586.01 810.72,585.98 812.23,585.95 813.75,585.92 815.26,585.89 816.77,585.85 818.29,585.82 819.8,585.79 821.32,585.75 822.83,585.72 824.34,585.68 825.86,585.64 827.37,585.6 828.89,585.56 830.4,585.51 831.92,585.47 833.43,585.42 834.94,585.37 836.46,585.32 837.97,585.27 839.49,585.22 841,585.17 842.51,585.12 844.03,585.07 845.54,585.01 847.06,584.96 848.57,584.91 850.09,584.85 851.6,584.8" fill="none" stroke="#000" stroke-width="1.7"/>
<path d="M124.78 591.57L123.64 595.09L119.93 595.09L122.93 597.27L121.79 600.79L124.78 598.62L127.78 600.79L126.64 597.27L129.63 595.09L125.93 595.09Z" fill="#000" stroke="#000" stroke-width="1.35" stroke-linejoin="bevel"/><path d="M155.07 590.84L153.92 594.36L150.22 594.36L153.22 596.54L152.07 600.06L155.07 597.88L158.07 600.06L156.92 596.54L159.92 594.36L156.21 594.36Z" fill="#000" stroke="#000" stroke-width="1.35" stroke-linejoin="bevel"/><path d="M185.35 590.25L184.21 593.77L180.5 593.77L183.5 595.95L182.35 599.48L185.35 597.3L188.35 599.48L187.2 595.95L190.2 593.77L186.5 593.77Z" fill="#000" stroke="#000" stroke-width="1.35" stroke-linejoin="bevel"/><path d="M215.64 589.74L214.49 593.26L210.79 593.26L213.78 595.44L212.64 598.96L215.64 596.79L218.63 598.96L217.49 595.44L220.49 593.26L216.78 593.26Z" fill="#000" stroke="#000" stroke-width="1.35" stroke-linejoin="bevel"/><path d="M245.92 589.22L244.77 592.75L241.07 592.75L244.07 594.93L242.92 598.45L245.92 596.27L248.92 598.45L247.77 594.93L250.77 592.75L247.07 592.75Z" fill="#000" stroke="#000" stroke-width="1.35" stroke-linejoin="bevel"/><path d="M276.2 588.77L275.06 592.3L271.35 592.3L274.35 594.47L273.21 598L276.2 595.82L279.2 598L278.06 594.47L281.05 592.3L277.35 592.3Z" fill="#000" stroke="#000" stroke-width="1.35" stroke-linejoin="bevel"/><path d="M306.49 588.35L305.34 591.87L301.64 591.87L304.64 594.05L303.49 597.58L306.49 595.4L309.49 597.58L308.34 594.05L311.34 591.87L307.63 591.87Z" fill="#000" stroke="#000" stroke-width="1.35" stroke-linejoin="bevel"/><path d="M336.77 587.94L335.63 591.47L331.92 591.47L334.92 593.64L333.77 597.17L336.77 594.99L339.77 597.17L338.62 593.64L341.62 591.47L337.92 591.47Z" fill="#000" stroke="#000" stroke-width="1.35" stroke-linejoin="bevel"/><path d="M367.06 587.53L365.91 591.05L362.21 591.05L365.2 593.23L364.06 596.76L367.06 594.58L370.05 596.76L368.91 593.23L371.91 591.05L368.2 591.05Z" fill="#000" stroke="#000" stroke-width="1.35" stroke-linejoin="bevel"/><path d="M397.34 587.1L396.19 590.62L392.49 590.62L395.49 592.8L394.34 596.33L397.34 594.15L400.34 596.33L399.19 592.8L402.19 590.62L398.49 590.62Z" fill="#000" stroke="#000" stroke-width="1.35" stroke-linejoin="bevel"/><path d="M427.62 586.64L426.48 590.17L422.77 590.17L425.77 592.35L424.63 595.87L427.62 593.69L430.62 595.87L429.48 592.35L432.47 590.17L428.77 590.17Z" fill="#000" stroke="#000" stroke-width="1.35" stroke-linejoin="bevel"/><path d="M457.91 586.17L456.76 589.7L453.06 589.7L456.06 591.87L454.91 595.4L457.91 593.22L460.91 595.4L459.76 591.87L462.76 589.7L459.05 589.7Z" fill="#000" stroke="#000" stroke-width="1.35" stroke-linejoin="bevel"/><path d="M488.19 585.69L487.05 589.22L483.34 589.22L486.34 591.4L485.19 594.92L488.19 592.74L491.19 594.92L490.04 591.4L493.04 589.22L489.34 589.22Z" fill="#000" stroke="#000" stroke-width="1.35" stroke-linejoin="bevel"/><path d="M518.48 585.22L517.33 588.74L513.63 588.74L516.62 590.92L515.48 594.45L518.48 592.27L521.47 594.45L520.33 590.92L523.33 588.74L519.62 588.74Z" fill="#000" stroke="#000" stroke-width="1.35" stroke-linejoin="bevel"/><path d="M548.76 584.76L547.61 588.28L543.91 588.28L546.91 590.46L545.76 593.98L548.76 591.8L551.76 593.98L550.61 590.46L553.61 588.28L549.91 588.28Z" fill="#000" stroke="#000" stroke-width="1.35" stroke-linejoin="bevel"/><path d="M579.04 584.31L577.9 587.83L574.19 587.83L577.19 590.01L576.05 593.54L579.04 591.36L582.04 593.54L580.9 590.01L583.89 587.83L580.19 587.83Z" fill="#000" stroke="#000" stroke-width="1.35" stroke-linejoin="bevel"/><path d="M609.33 583.88L608.18 587.4L604.48 587.4L607.48 589.58L606.33 593.1L609.33 590.92L612.33 593.1L611.18 589.58L614.18 587.4L610.47 587.4Z" fill="#000" stroke="#000" stroke-width="1.35" stroke-linejoin="bevel"/><path d="M639.61 583.44L638.47 586.97L634.76 586.97L637.76 589.15L636.61 592.67L639.61 590.49L642.61 592.67L641.46 589.15L644.46 586.97L640.76 586.97Z" fill="#000" stroke="#000" stroke-width="1.35" stroke-linejoin="bevel"/><path d="M669.9 583.01L668.75 586.53L665.05 586.53L668.04 588.71L666.9 592.23L669.9 590.06L672.89 592.23L671.75 588.71L674.75 586.53L671.04 586.53Z" fill="#000" stroke="#000" stroke-width="1.35" stroke-linejoin="bevel"/><path d="M700.18 582.56L699.03 586.08L695.33 586.08L698.33 588.26L697.18 591.78L700.18 589.61L703.18 591.78L702.03 588.26L705.03 586.08L701.33 586.08Z" fill="#000" stroke="#000" stroke-width="1.35" stroke-linejoin="bevel"/><path d="M730.46 582.13L729.32 585.66L725.61 585.66L728.61 587.83L727.47 591.36L730.46 589.18L733.46 591.36L732.32 587.83L735.31 585.66L731.61 585.66Z" fill="#000" stroke="#000" stroke-width="1.35" stroke-linejoin="bevel"/><path d="M760.75 581.72L759.6 585.24L755.9 585.24L758.9 587.42L757.75 590.94L760.75 588.77L763.75 590.94L762.6 587.42L765.6 585.24L761.89 585.24Z" fill="#000" stroke="#000" stroke-width="1.35" stroke-linejoin="bevel"/><path d="M791.03 581.25L789.89 584.77L786.18 584.77L789.18 586.95L788.03 590.47L791.03 588.3L794.03 590.47L792.88 586.95L795.88 584.77L792.18 584.77Z" fill="#000" stroke="#000" stroke-width="1.35" stroke-linejoin="bevel"/><path d="M821.32 580.65L820.17 584.18L816.47 584.18L819.46 586.36L818.32 589.88L821.32 587.7L824.31 589.88L823.17 586.36L826.17 584.18L822.46 584.18Z" fill="#000" stroke="#000" stroke-width="1.35" stroke-linejoin="bevel"/>
<path d="M139.93 589.95L138.53 594.24L134.03 594.24L137.67 596.88L136.28 601.17L139.93 598.52L143.57 601.17L142.18 596.88L145.82 594.24L141.32 594.24Z" fill="#000" stroke="#000" stroke-width="0.9" stroke-linejoin="miter" stroke-miterlimit="6"/><path d="M170.21 589.33L168.82 593.61L164.31 593.61L167.96 596.26L166.57 600.55L170.21 597.9L173.85 600.55L172.46 596.26L176.11 593.61L171.6 593.61Z" fill="#000" stroke="#000" stroke-width="0.9" stroke-linejoin="miter" stroke-miterlimit="6"/><path d="M200.49 588.79L199.1 593.07L194.6 593.07L198.24 595.72L196.85 600.01L200.49 597.36L204.14 600.01L202.75 595.72L206.39 593.07L201.89 593.07Z" fill="#000" stroke="#000" stroke-width="0.9" stroke-linejoin="miter" stroke-miterlimit="6"/><path d="M230.78 588.28L229.39 592.56L224.88 592.56L228.53 595.21L227.13 599.49L230.78 596.84L234.42 599.49L233.03 595.21L236.67 592.56L232.17 592.56Z" fill="#000" stroke="#000" stroke-width="0.9" stroke-linejoin="miter" stroke-miterlimit="6"/><path d="M261.06 587.79L259.67 592.08L255.17 592.08L258.81 594.72L257.42 599.01L261.06 596.36L264.71 599.01L263.31 594.72L266.96 592.08L262.45 592.08Z" fill="#000" stroke="#000" stroke-width="0.9" stroke-linejoin="miter" stroke-miterlimit="6"/><path d="M291.35 587.36L289.95 591.64L285.45 591.64L289.09 594.29L287.7 598.57L291.35 595.93L294.99 598.57L293.6 594.29L297.24 591.64L292.74 591.64Z" fill="#000" stroke="#000" stroke-width="0.9" stroke-linejoin="miter" stroke-miterlimit="6"/><path d="M321.63 586.94L320.24 591.23L315.73 591.23L319.38 593.88L317.99 598.16L321.63 595.51L325.27 598.16L323.88 593.88L327.53 591.23L323.02 591.23Z" fill="#000" stroke="#000" stroke-width="0.9" stroke-linejoin="miter" stroke-miterlimit="6"/><path d="M351.91 586.54L350.52 590.82L346.02 590.82L349.66 593.47L348.27 597.75L351.91 595.11L355.56 597.75L354.17 593.47L357.81 590.82L353.31 590.82Z" fill="#000" stroke="#000" stroke-width="0.9" stroke-linejoin="miter" stroke-miterlimit="6"/><path d="M382.2 586.12L380.81 590.4L376.3 590.4L379.95 593.05L378.55 597.34L382.2 594.69L385.84 597.34L384.45 593.05L388.09 590.4L383.59 590.4Z" fill="#000" stroke="#000" stroke-width="0.9" stroke-linejoin="miter" stroke-miterlimit="6"/><path d="M412.48 585.67L411.09 589.96L406.59 589.96L410.23 592.61L408.84 596.89L412.48 594.24L416.13 596.89L414.73 592.61L418.38 589.96L413.87 589.96Z" fill="#000" stroke="#000" stroke-width="0.9" stroke-linejoin="miter" stroke-miterlimit="6"/><path d="M442.77 585.21L441.37 589.49L436.87 589.49L440.51 592.14L439.12 596.43L442.77 593.78L446.41 596.43L445.02 592.14L448.66 589.49L444.16 589.49Z" fill="#000" stroke="#000" stroke-width="0.9" stroke-linejoin="miter" stroke-miterlimit="6"/><path d="M473.05 584.73L471.66 589.02L467.15 589.02L470.8 591.67L469.41 595.95L473.05 593.3L476.69 595.95L475.3 591.67L478.95 589.02L474.44 589.02Z" fill="#000" stroke="#000" stroke-width="0.9" stroke-linejoin="miter" stroke-miterlimit="6"/><path d="M503.33 584.26L501.94 588.54L497.44 588.54L501.08 591.19L499.69 595.47L503.33 592.82L506.98 595.47L505.59 591.19L509.23 588.54L504.73 588.54Z" fill="#000" stroke="#000" stroke-width="0.9" stroke-linejoin="miter" stroke-miterlimit="6"/><path d="M533.62 583.79L532.23 588.07L527.72 588.07L531.37 590.72L529.97 595L533.62 592.35L537.26 595L535.87 590.72L539.51 588.07L535.01 588.07Z" fill="#000" stroke="#000" stroke-width="0.9" stroke-linejoin="miter" stroke-miterlimit="6"/><path d="M563.9 583.33L562.51 587.62L558.01 587.62L561.65 590.26L560.26 594.55L563.9 591.9L567.55 594.55L566.15 590.26L569.8 587.62L565.29 587.62Z" fill="#000" stroke="#000" stroke-width="0.9" stroke-linejoin="miter" stroke-miterlimit="6"/><path d="M594.19 582.89L592.79 587.18L588.29 587.18L591.93 589.82L590.54 594.11L594.19 591.46L597.83 594.11L596.44 589.82L600.08 587.18L595.58 587.18Z" fill="#000" stroke="#000" stroke-width="0.9" stroke-linejoin="miter" stroke-miterlimit="6"/><path d="M624.47 582.46L623.08 586.74L618.57 586.74L622.22 589.39L620.83 593.68L624.47 591.03L628.11 593.68L626.72 589.39L630.37 586.74L625.86 586.74Z" fill="#000" stroke="#000" stroke-width="0.9" stroke-linejoin="miter" stroke-miterlimit="6"/><path d="M654.75 582.03L653.36 586.31L648.86 586.31L652.5 588.96L651.11 593.24L654.75 590.6L658.4 593.24L657.01 588.96L660.65 586.31L656.15 586.31Z" fill="#000" stroke="#000" stroke-width="0.9" stroke-linejoin="miter" stroke-miterlimit="6"/><path d="M685.04 581.59L683.65 585.87L679.14 585.87L682.79 588.52L681.39 592.8L685.04 590.15L688.68 592.8L687.29 588.52L690.93 585.87L686.43 585.87Z" fill="#000" stroke="#000" stroke-width="0.9" stroke-linejoin="miter" stroke-miterlimit="6"/><path d="M715.32 581.14L713.93 585.42L709.43 585.42L713.07 588.07L711.68 592.36L715.32 589.71L718.97 592.36L717.57 588.07L721.22 585.42L716.71 585.42Z" fill="#000" stroke="#000" stroke-width="0.9" stroke-linejoin="miter" stroke-miterlimit="6"/><path d="M745.61 580.73L744.21 585.01L739.71 585.01L743.35 587.66L741.96 591.94L745.61 589.3L749.25 591.94L747.86 587.66L751.5 585.01L747 585.01Z" fill="#000" stroke="#000" stroke-width="0.9" stroke-linejoin="miter" stroke-miterlimit="6"/><path d="M775.89 580.29L774.5 584.58L769.99 584.58L773.64 587.23L772.25 591.51L775.89 588.86L779.53 591.51L778.14 587.23L781.79 584.58L777.28 584.58Z" fill="#000" stroke="#000" stroke-width="0.9" stroke-linejoin="miter" stroke-miterlimit="6"/><path d="M806.17 579.77L804.78 584.06L800.28 584.06L803.92 586.7L802.53 590.99L806.17 588.34L809.82 590.99L808.43 586.7L812.07 584.06L807.57 584.06Z" fill="#000" stroke="#000" stroke-width="0.9" stroke-linejoin="miter" stroke-miterlimit="6"/><path d="M836.46 579.02L835.07 583.31L830.56 583.31L834.21 585.96L832.81 590.24L836.46 587.59L840.1 590.24L838.71 585.96L842.35 583.31L837.85 583.31Z" fill="#000" stroke="#000" stroke-width="0.9" stroke-linejoin="miter" stroke-miterlimit="6"/>
<polyline points="94.5,598.5 96.01,597.79 97.53,597.09 99.04,596.4 100.56,595.73 102.07,595.06 103.59,594.41 105.1,593.77 106.61,593.15 108.13,592.54 109.64,591.94 111.16,591.36 112.67,590.8 114.18,590.26 115.7,589.73 117.21,589.23 118.73,588.74 120.24,588.27 121.76,587.83 123.27,587.4 124.78,587 126.3,586.62 127.81,586.25 129.33,585.9 130.84,585.56 132.35,585.24 133.87,584.93 135.38,584.62 136.9,584.33 138.41,584.05 139.93,583.77 141.44,583.49 142.95,583.23 144.47,582.96 145.98,582.69 147.5,582.43 149.01,582.16 150.53,581.9 152.04,581.62 153.55,581.35 155.07,581.07 156.58,580.78 158.1,580.49 159.61,580.21 161.12,579.92 162.64,579.64 164.15,579.35 165.67,579.07 167.18,578.78 168.7,578.5 170.21,578.22 171.72,577.94 173.24,577.67 174.75,577.4 176.27,577.12 177.78,576.86 179.3,576.59 180.81,576.33 182.32,576.07 183.84,575.82 185.35,575.57 186.87,575.33 188.38,575.09 189.89,574.85 191.41,574.62 192.92,574.4 194.44,574.17 195.95,573.95 197.47,573.73 198.98,573.51 200.49,573.29 202.01,573.08 203.52,572.86 205.04,572.65 206.55,572.43 208.06,572.22 209.58,572 211.09,571.78 212.61,571.56 214.12,571.33 215.64,571.1 217.15,570.88 218.66,570.64 220.18,570.41 221.69,570.18 223.21,569.95 224.72,569.71 226.24,569.48 227.75,569.24 229.26,569.01 230.78,568.77 232.29,568.53 233.81,568.3 235.32,568.06 236.83,567.82 238.35,567.59 239.86,567.35 241.38,567.12 242.89,566.88 244.41,566.65 245.92,566.42 247.43,566.18 248.95,565.95 250.46,565.72 251.98,565.49 253.49,565.25 255.01,565.02 256.52,564.79 258.03,564.56 259.55,564.33 261.06,564.09 262.58,563.86 264.09,563.63 265.6,563.4 267.12,563.17 268.63,562.93 270.15,562.7 271.66,562.47 273.18,562.24 274.69,562.01 276.2,561.77 277.72,561.54 279.23,561.31 280.75,561.08 282.26,560.85 283.77,560.61 285.29,560.38 286.8,560.15 288.32,559.92 289.83,559.69 291.35,559.46 292.86,559.23 294.37,558.99 295.89,558.76 297.4,558.53 298.92,558.3 300.43,558.07 301.95,557.84 303.46,557.61 304.97,557.38 306.49,557.15 308,556.92 309.52,556.69 311.03,556.46 312.54,556.22 314.06,555.99 315.57,555.76 317.09,555.53 318.6,555.3 320.12,555.07 321.63,554.84 323.14,554.61 324.66,554.38 326.17,554.15 327.69,553.92 329.2,553.7 330.72,553.47 332.23,553.24 333.74,553.01 335.26,552.78 336.77,552.55 338.29,552.32 339.8,552.09 341.31,551.86 342.83,551.63 344.34,551.41 345.86,551.18 347.37,550.95 348.89,550.72 350.4,550.49 351.91,550.27 353.43,550.04 354.94,549.81 356.46,549.58 357.97,549.35 359.49,549.13 361,548.9 362.51,548.67 364.03,548.45 365.54,548.22 367.06,547.99 368.57,547.77 370.08,547.54 371.6,547.31 373.11,547.09 374.63,546.86 376.14,546.64 377.66,546.41 379.17,546.18 380.68,545.96 382.2,545.73 383.71,545.51 385.23,545.28 386.74,545.06 388.25,544.83 389.77,544.61 391.28,544.39 392.8,544.16 394.31,543.94 395.83,543.71 397.34,543.49 398.85,543.27 400.37,543.04 401.88,542.82 403.4,542.6 404.91,542.37 406.43,542.15 407.94,541.93 409.45,541.71 410.97,541.49 412.48,541.26 414,541.04 415.51,540.82 417.02,540.6 418.54,540.38 420.05,540.16 421.57,539.94 423.08,539.72 424.6,539.5 426.11,539.28 427.62,539.06 429.14,538.84 430.65,538.62 432.17,538.4 433.68,538.18 435.19,537.96 436.71,537.74 438.22,537.53 439.74,537.31 441.25,537.09 442.77,536.87 444.28,536.65 445.79,536.43 447.31,536.22 448.82,536 450.34,535.78 451.85,535.56 453.37,535.35 454.88,535.13 456.39,534.91 457.91,534.69 459.42,534.48 460.94,534.26 462.45,534.04 463.96,533.83 465.48,533.61 466.99,533.39 468.51,533.18 470.02,532.96 471.54,532.74 473.05,532.53 474.56,532.31 476.08,532.09 477.59,531.88 479.11,531.66 480.62,531.44 482.14,531.23 483.65,531.01 485.16,530.79 486.68,530.58 488.19,530.36 489.71,530.15 491.22,529.93 492.73,529.71 494.25,529.5 495.76,529.28 497.28,529.06 498.79,528.85 500.31,528.63 501.82,528.41 503.33,528.2 504.85,527.98 506.36,527.76 507.88,527.55 509.39,527.33 510.9,527.11 512.42,526.9 513.93,526.68 515.45,526.46 516.96,526.25 518.48,526.03 519.99,525.81 521.5,525.59 523.02,525.38 524.53,525.16 526.05,524.94 527.56,524.72 529.08,524.5 530.59,524.29 532.1,524.07 533.62,523.85 535.13,523.63 536.65,523.41 538.16,523.2 539.67,522.98 541.19,522.76 542.7,522.54 544.22,522.32 545.73,522.1 547.25,521.88 548.76,521.66 550.27,521.44 551.79,521.22 553.3,521 554.82,520.78 556.33,520.56 557.85,520.34 559.36,520.12 560.87,519.9 562.39,519.68 563.9,519.46 565.42,519.24 566.93,519.01 568.44,518.79 569.96,518.57 571.47,518.35 572.99,518.13 574.5,517.91 576.02,517.69 577.53,517.46 579.04,517.24 580.56,517.02 582.07,516.8 583.59,516.58 585.1,516.35 586.62,516.13 588.13,515.91 589.64,515.69 591.16,515.46 592.67,515.24 594.19,515.02 595.7,514.8 597.21,514.57 598.73,514.35 600.24,514.13 601.76,513.91 603.27,513.68 604.79,513.46 606.3,513.24 607.81,513.02 609.33,512.79 610.84,512.57 612.36,512.35 613.87,512.13 615.38,511.9 616.9,511.68 618.41,511.46 619.93,511.23 621.44,511.01 622.96,510.79 624.47,510.57 625.98,510.34 627.5,510.12 629.01,509.9 630.53,509.68 632.04,509.45 633.56,509.23 635.07,509.01 636.58,508.79 638.1,508.56 639.61,508.34 641.13,508.12 642.64,507.9 644.15,507.68 645.67,507.45 647.18,507.23 648.7,507.01 650.21,506.79 651.73,506.57 653.24,506.35 654.75,506.12 656.27,505.9 657.78,505.68 659.3,505.46 660.81,505.24 662.33,505.02 663.84,504.8 665.35,504.58 666.87,504.36 668.38,504.14 669.9,503.92 671.41,503.69 672.92,503.47 674.44,503.25 675.95,503.03 677.47,502.82 678.98,502.6 680.5,502.38 682.01,502.16 683.52,501.94 685.04,501.72 686.55,501.5 688.07,501.28 689.58,501.06 691.09,500.85 692.61,500.63 694.12,500.41 695.64,500.19 697.15,499.97 698.67,499.76 700.18,499.54 701.69,499.32 703.21,499.11 704.72,498.89 706.24,498.67 707.75,498.46 709.27,498.25 710.78,498.03 712.29,497.82 713.81,497.6 715.32,497.39 716.84,497.18 718.35,496.97 719.86,496.75 721.38,496.54 722.89,496.33 724.41,496.12 725.92,495.91 727.44,495.7 728.95,495.49 730.46,495.28 731.98,495.07 733.49,494.86 735.01,494.65 736.52,494.44 738.03,494.23 739.55,494.02 741.06,493.81 742.58,493.6 744.09,493.39 745.61,493.18 747.12,492.97 748.63,492.76 750.15,492.55 751.66,492.34 753.18,492.14 754.69,491.93 756.21,491.72 757.72,491.51 759.23,491.3 760.75,491.09 762.26,490.88 763.78,490.67 765.29,490.46 766.8,490.25 768.32,490.04 769.83,489.83 771.35,489.62 772.86,489.41 774.38,489.2 775.89,488.99 777.4,488.78 778.92,488.57 780.43,488.35 781.95,488.14 783.46,487.93 784.98,487.72 786.49,487.5 788,487.29 789.52,487.08 791.03,486.86 792.55,486.65 794.06,486.43 795.57,486.22 797.09,486 798.6,485.78 800.12,485.57 801.63,485.35 803.15,485.13 804.66,484.91 806.17,484.69 807.69,484.47 809.2,484.25 810.72,484.03 812.23,483.81 813.75,483.59 815.26,483.37 816.77,483.15 818.29,482.92 819.8,482.7 821.32,482.47 822.83,482.25 824.34,482.02 825.86,481.79 827.37,481.56 828.89,481.33 830.4,481.1 831.92,480.86 833.43,480.63 834.94,480.4 836.46,480.16 837.97,479.92 839.49,479.69 841,479.45 842.51,479.21 844.03,478.98 845.54,478.74 847.06,478.5 848.57,478.26 850.09,478.02 851.6,477.78" fill="none" stroke="#ff0000" stroke-width="2.0"/>
<path d="M111.31 583.81V600.21" stroke="#ff0000" stroke-width="1.8" fill="none"/>
<path d="M139.93 576.27V592.67" stroke="#ff0000" stroke-width="1.8" fill="none"/><path d="M170.21 570.72V587.12" stroke="#ff0000" stroke-width="1.8" fill="none"/><path d="M200.49 565.79V582.19" stroke="#ff0000" stroke-width="1.8" fill="none"/><path d="M230.78 561.27V577.67" stroke="#ff0000" stroke-width="1.8" fill="none"/><path d="M261.06 556.59V572.99" stroke="#ff0000" stroke-width="1.8" fill="none"/><path d="M291.35 551.96V568.36" stroke="#ff0000" stroke-width="1.8" fill="none"/><path d="M321.63 547.34V563.74" stroke="#ff0000" stroke-width="1.8" fill="none"/><path d="M351.91 542.77V559.17" stroke="#ff0000" stroke-width="1.8" fill="none"/><path d="M382.2 538.23V554.63" stroke="#ff0000" stroke-width="1.8" fill="none"/><path d="M412.48 533.76V550.16" stroke="#ff0000" stroke-width="1.8" fill="none"/><path d="M442.77 529.37V545.77" stroke="#ff0000" stroke-width="1.8" fill="none"/><path d="M473.05 525.03V541.43" stroke="#ff0000" stroke-width="1.8" fill="none"/><path d="M503.33 520.7V537.1" stroke="#ff0000" stroke-width="1.8" fill="none"/><path d="M533.62 516.35V532.75" stroke="#ff0000" stroke-width="1.8" fill="none"/><path d="M563.9 511.96V528.36" stroke="#ff0000" stroke-width="1.8" fill="none"/><path d="M594.19 507.52V523.92" stroke="#ff0000" stroke-width="1.8" fill="none"/><path d="M624.47 503.07V519.47" stroke="#ff0000" stroke-width="1.8" fill="none"/><path d="M654.75 498.62V515.02" stroke="#ff0000" stroke-width="1.8" fill="none"/><path d="M685.04 494.22V510.62" stroke="#ff0000" stroke-width="1.8" fill="none"/><path d="M715.32 489.89V506.29" stroke="#ff0000" stroke-width="1.8" fill="none"/><path d="M745.61 485.68V502.08" stroke="#ff0000" stroke-width="1.8" fill="none"/><path d="M775.89 481.49V497.89" stroke="#ff0000" stroke-width="1.8" fill="none"/><path d="M806.17 477.19V493.59" stroke="#ff0000" stroke-width="1.8" fill="none"/><path d="M836.46 472.66V489.06" stroke="#ff0000" stroke-width="1.8" fill="none"/>
<path d="M124.78 581.9L123.64 585.42L119.93 585.42L122.93 587.6L121.79 591.13L124.78 588.95L127.78 591.13L126.64 587.6L129.63 585.42L125.93 585.42Z" fill="#ff0000" stroke="#000" stroke-width="1.35" stroke-linejoin="bevel"/><path d="M155.07 575.97L153.92 579.49L150.22 579.49L153.22 581.67L152.07 585.19L155.07 583.01L158.07 585.19L156.92 581.67L159.92 579.49L156.21 579.49Z" fill="#ff0000" stroke="#000" stroke-width="1.35" stroke-linejoin="bevel"/><path d="M185.35 570.47L184.21 574L180.5 574L183.5 576.17L182.35 579.7L185.35 577.52L188.35 579.7L187.2 576.17L190.2 574L186.5 574Z" fill="#ff0000" stroke="#000" stroke-width="1.35" stroke-linejoin="bevel"/><path d="M215.64 566L214.49 569.53L210.79 569.53L213.78 571.71L212.64 575.23L215.64 573.05L218.63 575.23L217.49 571.71L220.49 569.53L216.78 569.53Z" fill="#ff0000" stroke="#000" stroke-width="1.35" stroke-linejoin="bevel"/><path d="M245.92 561.32L244.77 564.84L241.07 564.84L244.07 567.02L242.92 570.54L245.92 568.36L248.92 570.54L247.77 567.02L250.77 564.84L247.07 564.84Z" fill="#ff0000" stroke="#000" stroke-width="1.35" stroke-linejoin="bevel"/><path d="M276.2 556.67L275.06 560.2L271.35 560.2L274.35 562.38L273.21 565.9L276.2 563.72L279.2 565.9L278.06 562.38L281.05 560.2L277.35 560.2Z" fill="#ff0000" stroke="#000" stroke-width="1.35" stroke-linejoin="bevel"/><path d="M306.49 552.05L305.34 555.57L301.64 555.57L304.64 557.75L303.49 561.27L306.49 559.09L309.49 561.27L308.34 557.75L311.34 555.57L307.63 555.57Z" fill="#ff0000" stroke="#000" stroke-width="1.35" stroke-linejoin="bevel"/><path d="M336.77 547.45L335.63 550.97L331.92 550.97L334.92 553.15L333.77 556.68L336.77 554.5L339.77 556.68L338.62 553.15L341.62 550.97L337.92 550.97Z" fill="#ff0000" stroke="#000" stroke-width="1.35" stroke-linejoin="bevel"/><path d="M367.06 542.89L365.91 546.42L362.21 546.42L365.2 548.59L364.06 552.12L367.06 549.94L370.05 552.12L368.91 548.59L371.91 546.42L368.2 546.42Z" fill="#ff0000" stroke="#000" stroke-width="1.35" stroke-linejoin="bevel"/><path d="M397.34 538.39L396.19 541.91L392.49 541.91L395.49 544.09L394.34 547.62L397.34 545.44L400.34 547.62L399.19 544.09L402.19 541.91L398.49 541.91Z" fill="#ff0000" stroke="#000" stroke-width="1.35" stroke-linejoin="bevel"/><path d="M427.62 533.96L426.48 537.48L422.77 537.48L425.77 539.66L424.63 543.19L427.62 541.01L430.62 543.19L429.48 539.66L432.47 537.48L428.77 537.48Z" fill="#ff0000" stroke="#000" stroke-width="1.35" stroke-linejoin="bevel"/><path d="M457.91 529.59L456.76 533.12L453.06 533.12L456.06 535.3L454.91 538.82L457.91 536.64L460.91 538.82L459.76 535.3L462.76 533.12L459.05 533.12Z" fill="#ff0000" stroke="#000" stroke-width="1.35" stroke-linejoin="bevel"/><path d="M488.19 525.26L487.05 528.79L483.34 528.79L486.34 530.96L485.19 534.49L488.19 532.31L491.19 534.49L490.04 530.96L493.04 528.79L489.34 528.79Z" fill="#ff0000" stroke="#000" stroke-width="1.35" stroke-linejoin="bevel"/><path d="M518.48 520.93L517.33 524.45L513.63 524.45L516.62 526.63L515.48 530.15L518.48 527.98L521.47 530.15L520.33 526.63L523.33 524.45L519.62 524.45Z" fill="#ff0000" stroke="#000" stroke-width="1.35" stroke-linejoin="bevel"/><path d="M548.76 516.56L547.61 520.08L543.91 520.08L546.91 522.26L545.76 525.79L548.76 523.61L551.76 525.79L550.61 522.26L553.61 520.08L549.91 520.08Z" fill="#ff0000" stroke="#000" stroke-width="1.35" stroke-linejoin="bevel"/><path d="M579.04 512.14L577.9 515.67L574.19 515.67L577.19 517.84L576.05 521.37L579.04 519.19L582.04 521.37L580.9 517.84L583.89 515.67L580.19 515.67Z" fill="#ff0000" stroke="#000" stroke-width="1.35" stroke-linejoin="bevel"/><path d="M609.33 507.69L608.18 511.22L604.48 511.22L607.48 513.4L606.33 516.92L609.33 514.74L612.33 516.92L611.18 513.4L614.18 511.22L610.47 511.22Z" fill="#ff0000" stroke="#000" stroke-width="1.35" stroke-linejoin="bevel"/><path d="M639.61 503.24L638.47 506.77L634.76 506.77L637.76 508.94L636.61 512.47L639.61 510.29L642.61 512.47L641.46 508.94L644.46 506.77L640.76 506.77Z" fill="#ff0000" stroke="#000" stroke-width="1.35" stroke-linejoin="bevel"/><path d="M669.9 498.82L668.75 502.34L665.05 502.34L668.04 504.52L666.9 508.04L669.9 505.86L672.89 508.04L671.75 504.52L674.75 502.34L671.04 502.34Z" fill="#ff0000" stroke="#000" stroke-width="1.35" stroke-linejoin="bevel"/><path d="M700.18 494.44L699.03 497.96L695.33 497.96L698.33 500.14L697.18 503.67L700.18 501.49L703.18 503.67L702.03 500.14L705.03 497.96L701.33 497.96Z" fill="#ff0000" stroke="#000" stroke-width="1.35" stroke-linejoin="bevel"/><path d="M730.46 490.18L729.32 493.7L725.61 493.7L728.61 495.88L727.47 499.4L730.46 497.22L733.46 499.4L732.32 495.88L735.31 493.7L731.61 493.7Z" fill="#ff0000" stroke="#000" stroke-width="1.35" stroke-linejoin="bevel"/><path d="M760.75 485.99L759.6 489.51L755.9 489.51L758.9 491.69L757.75 495.22L760.75 493.04L763.75 495.22L762.6 491.69L765.6 489.51L761.89 489.51Z" fill="#ff0000" stroke="#000" stroke-width="1.35" stroke-linejoin="bevel"/><path d="M791.03 481.76L789.89 485.29L786.18 485.29L789.18 487.46L788.03 490.99L791.03 488.81L794.03 490.99L792.88 487.46L795.88 485.29L792.18 485.29Z" fill="#ff0000" stroke="#000" stroke-width="1.35" stroke-linejoin="bevel"/><path d="M821.32 477.37L820.17 480.9L816.47 480.9L819.46 483.07L818.32 486.6L821.32 484.42L824.31 486.6L823.17 483.07L826.17 480.9L822.46 480.9Z" fill="#ff0000" stroke="#000" stroke-width="1.35" stroke-linejoin="bevel"/>
<polyline points="94.5,598.5 96.01,597.51 97.53,596.54 99.04,595.57 100.56,594.62 102.07,593.69 103.59,592.77 105.1,591.86 106.61,590.98 108.13,590.1 109.64,589.25 111.16,588.41 112.67,587.59 114.18,586.78 115.7,586 117.21,585.24 118.73,584.49 120.24,583.77 121.76,583.07 123.27,582.38 124.78,581.73 126.3,581.09 127.81,580.47 129.33,579.87 130.84,579.29 132.35,578.72 133.87,578.17 135.38,577.63 136.9,577.1 138.41,576.58 139.93,576.07 141.44,575.57 142.95,575.08 144.47,574.59 145.98,574.1 147.5,573.61 149.01,573.13 150.53,572.65 152.04,572.16 153.55,571.67 155.07,571.18 156.58,570.68 158.1,570.19 159.61,569.7 161.12,569.22 162.64,568.74 164.15,568.26 165.67,567.78 167.18,567.31 168.7,566.84 170.21,566.37 171.72,565.91 173.24,565.44 174.75,564.98 176.27,564.52 177.78,564.07 179.3,563.61 180.81,563.16 182.32,562.7 183.84,562.25 185.35,561.8 186.87,561.35 188.38,560.91 189.89,560.46 191.41,560.02 192.92,559.58 194.44,559.15 195.95,558.71 197.47,558.28 198.98,557.84 200.49,557.41 202.01,556.98 203.52,556.55 205.04,556.13 206.55,555.7 208.06,555.28 209.58,554.85 211.09,554.43 212.61,554 214.12,553.58 215.64,553.16 217.15,552.74 218.66,552.32 220.18,551.9 221.69,551.48 223.21,551.06 224.72,550.65 226.24,550.23 227.75,549.82 229.26,549.41 230.78,549 232.29,548.58 233.81,548.17 235.32,547.76 236.83,547.35 238.35,546.94 239.86,546.53 241.38,546.12 242.89,545.71 244.41,545.29 245.92,544.88 247.43,544.47 248.95,544.05 250.46,543.64 251.98,543.23 253.49,542.81 255.01,542.4 256.52,541.99 258.03,541.57 259.55,541.16 261.06,540.75 262.58,540.33 264.09,539.92 265.6,539.5 267.12,539.09 268.63,538.67 270.15,538.26 271.66,537.84 273.18,537.43 274.69,537.02 276.2,536.6 277.72,536.19 279.23,535.77 280.75,535.36 282.26,534.94 283.77,534.53 285.29,534.11 286.8,533.7 288.32,533.28 289.83,532.87 291.35,532.45 292.86,532.04 294.37,531.62 295.89,531.21 297.4,530.79 298.92,530.38 300.43,529.96 301.95,529.55 303.46,529.13 304.97,528.72 306.49,528.31 308,527.89 309.52,527.48 311.03,527.06 312.54,526.65 314.06,526.23 315.57,525.82 317.09,525.41 318.6,524.99 320.12,524.58 321.63,524.16 323.14,523.75 324.66,523.34 326.17,522.92 327.69,522.51 329.2,522.1 330.72,521.68 332.23,521.27 333.74,520.86 335.26,520.45 336.77,520.03 338.29,519.62 339.8,519.21 341.31,518.8 342.83,518.39 344.34,517.97 345.86,517.56 347.37,517.15 348.89,516.74 350.4,516.33 351.91,515.92 353.43,515.51 354.94,515.1 356.46,514.69 357.97,514.28 359.49,513.87 361,513.46 362.51,513.05 364.03,512.64 365.54,512.23 367.06,511.82 368.57,511.42 370.08,511.01 371.6,510.6 373.11,510.19 374.63,509.79 376.14,509.38 377.66,508.97 379.17,508.57 380.68,508.16 382.2,507.75 383.71,507.35 385.23,506.94 386.74,506.54 388.25,506.13 389.77,505.73 391.28,505.33 392.8,504.92 394.31,504.52 395.83,504.12 397.34,503.71 398.85,503.31 400.37,502.91 401.88,502.51 403.4,502.11 404.91,501.71 406.43,501.31 407.94,500.91 409.45,500.51 410.97,500.11 412.48,499.71 414,499.31 415.51,498.91 417.02,498.51 418.54,498.11 420.05,497.72 421.57,497.32 423.08,496.92 424.6,496.52 426.11,496.13 427.62,495.73 429.14,495.33 430.65,494.94 432.17,494.54 433.68,494.15 435.19,493.75 436.71,493.36 438.22,492.96 439.74,492.57 441.25,492.17 442.77,491.78 444.28,491.38 445.79,490.99 447.31,490.6 448.82,490.2 450.34,489.81 451.85,489.42 453.37,489.02 454.88,488.63 456.39,488.24 457.91,487.84 459.42,487.45 460.94,487.06 462.45,486.67 463.96,486.28 465.48,485.88 466.99,485.49 468.51,485.1 470.02,484.71 471.54,484.32 473.05,483.93 474.56,483.53 476.08,483.14 477.59,482.75 479.11,482.36 480.62,481.97 482.14,481.58 483.65,481.19 485.16,480.8 486.68,480.41 488.19,480.02 489.71,479.63 491.22,479.24 492.73,478.85 494.25,478.45 495.76,478.06 497.28,477.67 498.79,477.28 500.31,476.89 501.82,476.5 503.33,476.11 504.85,475.72 506.36,475.33 507.88,474.94 509.39,474.55 510.9,474.16 512.42,473.77 513.93,473.38 515.45,472.99 516.96,472.6 518.48,472.21 519.99,471.82 521.5,471.43 523.02,471.04 524.53,470.65 526.05,470.25 527.56,469.86 529.08,469.47 530.59,469.08 532.1,468.69 533.62,468.3 535.13,467.91 536.65,467.52 538.16,467.12 539.67,466.73 541.19,466.34 542.7,465.95 544.22,465.56 545.73,465.16 547.25,464.77 548.76,464.38 550.27,463.99 551.79,463.59 553.3,463.2 554.82,462.81 556.33,462.42 557.85,462.02 559.36,461.63 560.87,461.24 562.39,460.84 563.9,460.45 565.42,460.06 566.93,459.66 568.44,459.27 569.96,458.88 571.47,458.48 572.99,458.09 574.5,457.7 576.02,457.3 577.53,456.91 579.04,456.52 580.56,456.12 582.07,455.73 583.59,455.33 585.1,454.94 586.62,454.55 588.13,454.15 589.64,453.76 591.16,453.37 592.67,452.97 594.19,452.58 595.7,452.18 597.21,451.79 598.73,451.4 600.24,451 601.76,450.61 603.27,450.22 604.79,449.82 606.3,449.43 607.81,449.04 609.33,448.64 610.84,448.25 612.36,447.86 613.87,447.46 615.38,447.07 616.9,446.68 618.41,446.28 619.93,445.89 621.44,445.5 622.96,445.1 624.47,444.71 625.98,444.32 627.5,443.92 629.01,443.53 630.53,443.14 632.04,442.75 633.56,442.35 635.07,441.96 636.58,441.57 638.1,441.18 639.61,440.78 641.13,440.39 642.64,440 644.15,439.61 645.67,439.21 647.18,438.82 648.7,438.43 650.21,438.04 651.73,437.65 653.24,437.26 654.75,436.86 656.27,436.47 657.78,436.08 659.3,435.69 660.81,435.3 662.33,434.91 663.84,434.52 665.35,434.13 666.87,433.74 668.38,433.35 669.9,432.96 671.41,432.57 672.92,432.18 674.44,431.79 675.95,431.4 677.47,431.01 678.98,430.62 680.5,430.23 682.01,429.84 683.52,429.45 685.04,429.07 686.55,428.68 688.07,428.29 689.58,427.9 691.09,427.51 692.61,427.13 694.12,426.74 695.64,426.35 697.15,425.96 698.67,425.58 700.18,425.19 701.69,424.8 703.21,424.42 704.72,424.03 706.24,423.65 707.75,423.26 709.27,422.88 710.78,422.5 712.29,422.11 713.81,421.73 715.32,421.35 716.84,420.97 718.35,420.59 719.86,420.21 721.38,419.82 722.89,419.44 724.41,419.06 725.92,418.68 727.44,418.3 728.95,417.93 730.46,417.55 731.98,417.17 733.49,416.79 735.01,416.41 736.52,416.03 738.03,415.65 739.55,415.28 741.06,414.9 742.58,414.52 744.09,414.14 745.61,413.77 747.12,413.39 748.63,413.01 750.15,412.63 751.66,412.26 753.18,411.88 754.69,411.5 756.21,411.13 757.72,410.75 759.23,410.37 760.75,409.99 762.26,409.62 763.78,409.24 765.29,408.86 766.8,408.48 768.32,408.1 769.83,407.73 771.35,407.35 772.86,406.97 774.38,406.59 775.89,406.21 777.4,405.83 778.92,405.45 780.43,405.07 781.95,404.69 783.46,404.31 784.98,403.93 786.49,403.55 788,403.17 789.52,402.79 791.03,402.4 792.55,402.02 794.06,401.64 795.57,401.25 797.09,400.87 798.6,400.48 800.12,400.1 801.63,399.71 803.15,399.33 804.66,398.94 806.17,398.55 807.69,398.16 809.2,397.78 810.72,397.39 812.23,397 813.75,396.61 815.26,396.22 816.77,395.82 818.29,395.43 819.8,395.04 821.32,394.65 822.83,394.25 824.34,393.85 825.86,393.46 827.37,393.06 828.89,392.66 830.4,392.26 831.92,391.86 833.43,391.46 834.94,391.05 836.46,390.65 837.97,390.24 839.49,389.84 841,389.43 842.51,389.03 844.03,388.62 845.54,388.22 847.06,387.81 848.57,387.4 850.09,386.99 851.6,386.59" fill="none" stroke="#55ad5c" stroke-width="2.0" stroke-dasharray="17.8 12.92" stroke-dashoffset="20.25"/>
<path d="M124.78 576.63L123.64 580.15L119.93 580.15L122.93 582.33L121.79 585.85L124.78 583.67L127.78 585.85L126.64 582.33L129.63 580.15L125.93 580.15Z" fill="#008000" stroke="#000" stroke-width="1.35" stroke-linejoin="bevel"/><path d="M155.07 566.08L153.92 569.6L150.22 569.6L153.22 571.78L152.07 575.3L155.07 573.13L158.07 575.3L156.92 571.78L159.92 569.6L156.21 569.6Z" fill="#008000" stroke="#000" stroke-width="1.35" stroke-linejoin="bevel"/><path d="M185.35 556.7L184.21 560.23L180.5 560.23L183.5 562.4L182.35 565.93L185.35 563.75L188.35 565.93L187.2 562.4L190.2 560.23L186.5 560.23Z" fill="#008000" stroke="#000" stroke-width="1.35" stroke-linejoin="bevel"/><path d="M215.64 548.06L214.49 551.58L210.79 551.58L213.78 553.76L212.64 557.28L215.64 555.11L218.63 557.28L217.49 553.76L220.49 551.58L216.78 551.58Z" fill="#008000" stroke="#000" stroke-width="1.35" stroke-linejoin="bevel"/><path d="M245.92 539.78L244.77 543.31L241.07 543.31L244.07 545.48L242.92 549.01L245.92 546.83L248.92 549.01L247.77 545.48L250.77 543.31L247.07 543.31Z" fill="#008000" stroke="#000" stroke-width="1.35" stroke-linejoin="bevel"/><path d="M276.2 531.5L275.06 535.02L271.35 535.02L274.35 537.2L273.21 540.73L276.2 538.55L279.2 540.73L278.06 537.2L281.05 535.02L277.35 535.02Z" fill="#008000" stroke="#000" stroke-width="1.35" stroke-linejoin="bevel"/><path d="M306.49 523.21L305.34 526.73L301.64 526.73L304.64 528.91L303.49 532.43L306.49 530.25L309.49 532.43L308.34 528.91L311.34 526.73L307.63 526.73Z" fill="#008000" stroke="#000" stroke-width="1.35" stroke-linejoin="bevel"/><path d="M336.77 514.93L335.63 518.46L331.92 518.46L334.92 520.64L333.77 524.16L336.77 521.98L339.77 524.16L338.62 520.64L341.62 518.46L337.92 518.46Z" fill="#008000" stroke="#000" stroke-width="1.35" stroke-linejoin="bevel"/><path d="M367.06 506.72L365.91 510.25L362.21 510.25L365.2 512.43L364.06 515.95L367.06 513.77L370.05 515.95L368.91 512.43L371.91 510.25L368.2 510.25Z" fill="#008000" stroke="#000" stroke-width="1.35" stroke-linejoin="bevel"/><path d="M397.34 498.61L396.19 502.14L392.49 502.14L395.49 504.32L394.34 507.84L397.34 505.66L400.34 507.84L399.19 504.32L402.19 502.14L398.49 502.14Z" fill="#008000" stroke="#000" stroke-width="1.35" stroke-linejoin="bevel"/><path d="M427.62 490.63L426.48 494.15L422.77 494.15L425.77 496.33L424.63 499.86L427.62 497.68L430.62 499.86L429.48 496.33L432.47 494.15L428.77 494.15Z" fill="#008000" stroke="#000" stroke-width="1.35" stroke-linejoin="bevel"/><path d="M457.91 482.74L456.76 486.27L453.06 486.27L456.06 488.45L454.91 491.97L457.91 489.79L460.91 491.97L459.76 488.45L462.76 486.27L459.05 486.27Z" fill="#008000" stroke="#000" stroke-width="1.35" stroke-linejoin="bevel"/><path d="M488.19 474.92L487.05 478.44L483.34 478.44L486.34 480.62L485.19 484.14L488.19 481.96L491.19 484.14L490.04 480.62L493.04 478.44L489.34 478.44Z" fill="#008000" stroke="#000" stroke-width="1.35" stroke-linejoin="bevel"/><path d="M518.48 467.11L517.33 470.63L513.63 470.63L516.62 472.81L515.48 476.33L518.48 474.16L521.47 476.33L520.33 472.81L523.33 470.63L519.62 470.63Z" fill="#008000" stroke="#000" stroke-width="1.35" stroke-linejoin="bevel"/><path d="M548.76 459.28L547.61 462.8L543.91 462.8L546.91 464.98L545.76 468.51L548.76 466.33L551.76 468.51L550.61 464.98L553.61 462.8L549.91 462.8Z" fill="#008000" stroke="#000" stroke-width="1.35" stroke-linejoin="bevel"/><path d="M579.04 451.42L577.9 454.94L574.19 454.94L577.19 457.12L576.05 460.64L579.04 458.46L582.04 460.64L580.9 457.12L583.89 454.94L580.19 454.94Z" fill="#008000" stroke="#000" stroke-width="1.35" stroke-linejoin="bevel"/><path d="M609.33 443.54L608.18 447.07L604.48 447.07L607.48 449.24L606.33 452.77L609.33 450.59L612.33 452.77L611.18 449.24L614.18 447.07L610.47 447.07Z" fill="#008000" stroke="#000" stroke-width="1.35" stroke-linejoin="bevel"/><path d="M639.61 435.68L638.47 439.21L634.76 439.21L637.76 441.38L636.61 444.91L639.61 442.73L642.61 444.91L641.46 441.38L644.46 439.21L640.76 439.21Z" fill="#008000" stroke="#000" stroke-width="1.35" stroke-linejoin="bevel"/><path d="M669.9 427.86L668.75 431.38L665.05 431.38L668.04 433.56L666.9 437.08L669.9 434.91L672.89 437.08L671.75 433.56L674.75 431.38L671.04 431.38Z" fill="#008000" stroke="#000" stroke-width="1.35" stroke-linejoin="bevel"/><path d="M700.18 420.09L699.03 423.61L695.33 423.61L698.33 425.79L697.18 429.32L700.18 427.14L703.18 429.32L702.03 425.79L705.03 423.61L701.33 423.61Z" fill="#008000" stroke="#000" stroke-width="1.35" stroke-linejoin="bevel"/><path d="M730.46 412.45L729.32 415.97L725.61 415.97L728.61 418.15L727.47 421.67L730.46 419.49L733.46 421.67L732.32 418.15L735.31 415.97L731.61 415.97Z" fill="#008000" stroke="#000" stroke-width="1.35" stroke-linejoin="bevel"/><path d="M760.75 404.89L759.6 408.42L755.9 408.42L758.9 410.6L757.75 414.12L760.75 411.94L763.75 414.12L762.6 410.6L765.6 408.42L761.89 408.42Z" fill="#008000" stroke="#000" stroke-width="1.35" stroke-linejoin="bevel"/><path d="M791.03 397.3L789.89 400.83L786.18 400.83L789.18 403L788.03 406.53L791.03 404.35L794.03 406.53L792.88 403L795.88 400.83L792.18 400.83Z" fill="#008000" stroke="#000" stroke-width="1.35" stroke-linejoin="bevel"/><path d="M821.32 389.55L820.17 393.07L816.47 393.07L819.46 395.25L818.32 398.77L821.32 396.59L824.31 398.77L823.17 395.25L826.17 393.07L822.46 393.07Z" fill="#008000" stroke="#000" stroke-width="1.35" stroke-linejoin="bevel"/>
<polyline points="94.5,598.5 96.01,597.4 97.53,596.3 99.04,595.21 100.56,594.12 102.07,593.03 103.59,591.95 105.1,590.87 106.61,589.8 108.13,588.73 109.64,587.66 111.16,586.6 112.67,585.55 114.18,584.5 115.7,583.45 117.21,582.41 118.73,581.37 120.24,580.33 121.76,579.3 123.27,578.28 124.78,577.26 126.3,576.24 127.81,575.23 129.33,574.22 130.84,573.21 132.35,572.21 133.87,571.21 135.38,570.22 136.9,569.23 138.41,568.24 139.93,567.26 141.44,566.29 142.95,565.31 144.47,564.34 145.98,563.38 147.5,562.42 149.01,561.47 150.53,560.52 152.04,559.57 153.55,558.63 155.07,557.7 156.58,556.77 158.1,555.85 159.61,554.93 161.12,554.02 162.64,553.11 164.15,552.21 165.67,551.31 167.18,550.42 168.7,549.53 170.21,548.64 171.72,547.76 173.24,546.88 174.75,546 176.27,545.13 177.78,544.25 179.3,543.38 180.81,542.51 182.32,541.64 183.84,540.77 185.35,539.9 186.87,539.03 188.38,538.17 189.89,537.3 191.41,536.44 192.92,535.58 194.44,534.72 195.95,533.86 197.47,533.01 198.98,532.16 200.49,531.31 202.01,530.46 203.52,529.61 205.04,528.77 206.55,527.92 208.06,527.08 209.58,526.24 211.09,525.41 212.61,524.57 214.12,523.74 215.64,522.91 217.15,522.08 218.66,521.25 220.18,520.42 221.69,519.6 223.21,518.78 224.72,517.96 226.24,517.15 227.75,516.33 229.26,515.52 230.78,514.71 232.29,513.9 233.81,513.09 235.32,512.28 236.83,511.47 238.35,510.67 239.86,509.86 241.38,509.06 242.89,508.25 244.41,507.45 245.92,506.64 247.43,505.84 248.95,505.04 250.46,504.24 251.98,503.43 253.49,502.63 255.01,501.83 256.52,501.03 258.03,500.23 259.55,499.42 261.06,498.62 262.58,497.82 264.09,497.02 265.6,496.22 267.12,495.42 268.63,494.62 270.15,493.82 271.66,493.02 273.18,492.23 274.69,491.43 276.2,490.63 277.72,489.83 279.23,489.03 280.75,488.24 282.26,487.44 283.77,486.64 285.29,485.85 286.8,485.05 288.32,484.25 289.83,483.46 291.35,482.66 292.86,481.87 294.37,481.07 295.89,480.28 297.4,479.49 298.92,478.69 300.43,477.9 301.95,477.11 303.46,476.31 304.97,475.52 306.49,474.73 308,473.94 309.52,473.14 311.03,472.35 312.54,471.56 314.06,470.77 315.57,469.98 317.09,469.19 318.6,468.4 320.12,467.61 321.63,466.82 323.14,466.03 324.66,465.24 326.17,464.45 327.69,463.67 329.2,462.88 330.72,462.09 332.23,461.3 333.74,460.52 335.26,459.73 336.77,458.94 338.29,458.16 339.8,457.37 341.31,456.59 342.83,455.8 344.34,455.02 345.86,454.23 347.37,453.45 348.89,452.67 350.4,451.88 351.91,451.1 353.43,450.32 354.94,449.53 356.46,448.75 357.97,447.97 359.49,447.19 361,446.41 362.51,445.63 364.03,444.85 365.54,444.06 367.06,443.28 368.57,442.51 370.08,441.73 371.6,440.95 373.11,440.17 374.63,439.39 376.14,438.61 377.66,437.83 379.17,437.06 380.68,436.28 382.2,435.5 383.71,434.73 385.23,433.95 386.74,433.17 388.25,432.4 389.77,431.62 391.28,430.85 392.8,430.08 394.31,429.3 395.83,428.53 397.34,427.75 398.85,426.98 400.37,426.21 401.88,425.44 403.4,424.66 404.91,423.89 406.43,423.12 407.94,422.35 409.45,421.58 410.97,420.81 412.48,420.04 414,419.27 415.51,418.5 417.02,417.74 418.54,416.97 420.05,416.2 421.57,415.43 423.08,414.67 424.6,413.9 426.11,413.13 427.62,412.37 429.14,411.6 430.65,410.84 432.17,410.07 433.68,409.31 435.19,408.55 436.71,407.78 438.22,407.02 439.74,406.26 441.25,405.49 442.77,404.73 444.28,403.97 445.79,403.21 447.31,402.44 448.82,401.68 450.34,400.92 451.85,400.16 453.37,399.4 454.88,398.64 456.39,397.88 457.91,397.12 459.42,396.36 460.94,395.6 462.45,394.85 463.96,394.09 465.48,393.33 466.99,392.57 468.51,391.81 470.02,391.06 471.54,390.3 473.05,389.54 474.56,388.79 476.08,388.03 477.59,387.27 479.11,386.52 480.62,385.76 482.14,385.01 483.65,384.25 485.16,383.5 486.68,382.74 488.19,381.99 489.71,381.23 491.22,380.48 492.73,379.73 494.25,378.97 495.76,378.22 497.28,377.46 498.79,376.71 500.31,375.96 501.82,375.21 503.33,374.45 504.85,373.7 506.36,372.95 507.88,372.2 509.39,371.44 510.9,370.69 512.42,369.94 513.93,369.19 515.45,368.44 516.96,367.69 518.48,366.94 519.99,366.19 521.5,365.43 523.02,364.68 524.53,363.93 526.05,363.18 527.56,362.43 529.08,361.68 530.59,360.93 532.1,360.18 533.62,359.43 535.13,358.68 536.65,357.93 538.16,357.18 539.67,356.44 541.19,355.69 542.7,354.94 544.22,354.19 545.73,353.44 547.25,352.69 548.76,351.94 550.27,351.19 551.79,350.44 553.3,349.7 554.82,348.95 556.33,348.2 557.85,347.45 559.36,346.71 560.87,345.96 562.39,345.21 563.9,344.47 565.42,343.72 566.93,342.97 568.44,342.23 569.96,341.48 571.47,340.74 572.99,340 574.5,339.25 576.02,338.51 577.53,337.76 579.04,337.02 580.56,336.28 582.07,335.53 583.59,334.79 585.1,334.05 586.62,333.3 588.13,332.56 589.64,331.82 591.16,331.08 592.67,330.34 594.19,329.59 595.7,328.85 597.21,328.11 598.73,327.37 600.24,326.63 601.76,325.89 603.27,325.15 604.79,324.41 606.3,323.67 607.81,322.93 609.33,322.19 610.84,321.45 612.36,320.71 613.87,319.97 615.38,319.23 616.9,318.49 618.41,317.75 619.93,317.02 621.44,316.28 622.96,315.54 624.47,314.8 625.98,314.06 627.5,313.32 629.01,312.59 630.53,311.85 632.04,311.11 633.56,310.37 635.07,309.64 636.58,308.9 638.1,308.16 639.61,307.42 641.13,306.69 642.64,305.95 644.15,305.21 645.67,304.47 647.18,303.74 648.7,303 650.21,302.26 651.73,301.53 653.24,300.79 654.75,300.05 656.27,299.32 657.78,298.58 659.3,297.84 660.81,297.11 662.33,296.37 663.84,295.63 665.35,294.9 666.87,294.16 668.38,293.43 669.9,292.69 671.41,291.95 672.92,291.22 674.44,290.48 675.95,289.74 677.47,289.01 678.98,288.27 680.5,287.53 682.01,286.8 683.52,286.06 685.04,285.32 686.55,284.59 688.07,283.85 689.58,283.12 691.09,282.38 692.61,281.64 694.12,280.91 695.64,280.17 697.15,279.43 698.67,278.69 700.18,277.96 701.69,277.22 703.21,276.48 704.72,275.75 706.24,275.01 707.75,274.28 709.27,273.54 710.78,272.8 712.29,272.07 713.81,271.33 715.32,270.6 716.84,269.86 718.35,269.13 719.86,268.39 721.38,267.66 722.89,266.92 724.41,266.19 725.92,265.46 727.44,264.72 728.95,263.99 730.46,263.25 731.98,262.52 733.49,261.79 735.01,261.05 736.52,260.32 738.03,259.59 739.55,258.85 741.06,258.12 742.58,257.39 744.09,256.65 745.61,255.92 747.12,255.19 748.63,254.45 750.15,253.72 751.66,252.99 753.18,252.26 754.69,251.52 756.21,250.79 757.72,250.06 759.23,249.32 760.75,248.59 762.26,247.86 763.78,247.13 765.29,246.39 766.8,245.66 768.32,244.93 769.83,244.19 771.35,243.46 772.86,242.73 774.38,241.99 775.89,241.26 777.4,240.53 778.92,239.79 780.43,239.06 781.95,238.33 783.46,237.59 784.98,236.86 786.49,236.13 788,235.39 789.52,234.66 791.03,233.93 792.55,233.19 794.06,232.46 795.57,231.72 797.09,230.99 798.6,230.25 800.12,229.52 801.63,228.78 803.15,228.05 804.66,227.31 806.17,226.58 807.69,225.84 809.2,225.11 810.72,224.37 812.23,223.63 813.75,222.9 815.26,222.16 816.77,221.42 818.29,220.69 819.8,219.95 821.32,219.21 822.83,218.47 824.34,217.74 825.86,217 827.37,216.26 828.89,215.52 830.4,214.78 831.92,214.04 833.43,213.3 834.94,212.56 836.46,211.82 837.97,211.08 839.49,210.34 841,209.6 842.51,208.86 844.03,208.12 845.54,207.38 847.06,206.64 848.57,205.9 850.09,205.16 851.6,204.42" fill="none" stroke="#0000ff" stroke-width="2.0" stroke-dasharray="4.1 7.9" stroke-dashoffset="8.31"/>
<path d="M124.78 572.16L123.64 575.68L119.93 575.68L122.93 577.86L121.79 581.38L124.78 579.21L127.78 581.38L126.64 577.86L129.63 575.68L125.93 575.68Z" fill="#0000ff" stroke="#000" stroke-width="1.35" stroke-linejoin="bevel"/><path d="M155.07 552.6L153.92 556.12L150.22 556.12L153.22 558.3L152.07 561.83L155.07 559.65L158.07 561.83L156.92 558.3L159.92 556.12L156.21 556.12Z" fill="#0000ff" stroke="#000" stroke-width="1.35" stroke-linejoin="bevel"/><path d="M185.35 534.8L184.21 538.32L180.5 538.32L183.5 540.5L182.35 544.03L185.35 541.85L188.35 544.03L187.2 540.5L190.2 538.32L186.5 538.32Z" fill="#0000ff" stroke="#000" stroke-width="1.35" stroke-linejoin="bevel"/><path d="M215.64 517.81L214.49 521.33L210.79 521.33L213.78 523.51L212.64 527.03L215.64 524.85L218.63 527.03L217.49 523.51L220.49 521.33L216.78 521.33Z" fill="#0000ff" stroke="#000" stroke-width="1.35" stroke-linejoin="bevel"/><path d="M245.92 501.54L244.77 505.07L241.07 505.07L244.07 507.25L242.92 510.77L245.92 508.59L248.92 510.77L247.77 507.25L250.77 505.07L247.07 505.07Z" fill="#0000ff" stroke="#000" stroke-width="1.35" stroke-linejoin="bevel"/><path d="M276.2 485.53L275.06 489.05L271.35 489.05L274.35 491.23L273.21 494.76L276.2 492.58L279.2 494.76L278.06 491.23L281.05 489.05L277.35 489.05Z" fill="#0000ff" stroke="#000" stroke-width="1.35" stroke-linejoin="bevel"/><path d="M306.49 469.63L305.34 473.15L301.64 473.15L304.64 475.33L303.49 478.85L306.49 476.68L309.49 478.85L308.34 475.33L311.34 473.15L307.63 473.15Z" fill="#0000ff" stroke="#000" stroke-width="1.35" stroke-linejoin="bevel"/><path d="M336.77 453.84L335.63 457.37L331.92 457.37L334.92 459.55L333.77 463.07L336.77 460.89L339.77 463.07L338.62 459.55L341.62 457.37L337.92 457.37Z" fill="#0000ff" stroke="#000" stroke-width="1.35" stroke-linejoin="bevel"/><path d="M367.06 438.18L365.91 441.71L362.21 441.71L365.2 443.89L364.06 447.41L367.06 445.23L370.05 447.41L368.91 443.89L371.91 441.71L368.2 441.71Z" fill="#0000ff" stroke="#000" stroke-width="1.35" stroke-linejoin="bevel"/><path d="M397.34 422.65L396.19 426.18L392.49 426.18L395.49 428.36L394.34 431.88L397.34 429.7L400.34 431.88L399.19 428.36L402.19 426.18L398.49 426.18Z" fill="#0000ff" stroke="#000" stroke-width="1.35" stroke-linejoin="bevel"/><path d="M427.62 407.27L426.48 410.79L422.77 410.79L425.77 412.97L424.63 416.49L427.62 414.32L430.62 416.49L429.48 412.97L432.47 410.79L428.77 410.79Z" fill="#0000ff" stroke="#000" stroke-width="1.35" stroke-linejoin="bevel"/><path d="M457.91 392.02L456.76 395.55L453.06 395.55L456.06 397.72L454.91 401.25L457.91 399.07L460.91 401.25L459.76 397.72L462.76 395.55L459.05 395.55Z" fill="#0000ff" stroke="#000" stroke-width="1.35" stroke-linejoin="bevel"/><path d="M488.19 376.89L487.05 380.41L483.34 380.41L486.34 382.59L485.19 386.11L488.19 383.94L491.19 386.11L490.04 382.59L493.04 380.41L489.34 380.41Z" fill="#0000ff" stroke="#000" stroke-width="1.35" stroke-linejoin="bevel"/><path d="M518.48 361.84L517.33 365.36L513.63 365.36L516.62 367.54L515.48 371.06L518.48 368.88L521.47 371.06L520.33 367.54L523.33 365.36L519.62 365.36Z" fill="#0000ff" stroke="#000" stroke-width="1.35" stroke-linejoin="bevel"/><path d="M548.76 346.84L547.61 350.36L543.91 350.36L546.91 352.54L545.76 356.07L548.76 353.89L551.76 356.07L550.61 352.54L553.61 350.36L549.91 350.36Z" fill="#0000ff" stroke="#000" stroke-width="1.35" stroke-linejoin="bevel"/><path d="M579.04 331.92L577.9 335.44L574.19 335.44L577.19 337.62L576.05 341.15L579.04 338.97L582.04 341.15L580.9 337.62L583.89 335.44L580.19 335.44Z" fill="#0000ff" stroke="#000" stroke-width="1.35" stroke-linejoin="bevel"/><path d="M609.33 317.09L608.18 320.61L604.48 320.61L607.48 322.79L606.33 326.32L609.33 324.14L612.33 326.32L611.18 322.79L614.18 320.61L610.47 320.61Z" fill="#0000ff" stroke="#000" stroke-width="1.35" stroke-linejoin="bevel"/><path d="M639.61 302.32L638.47 305.85L634.76 305.85L637.76 308.02L636.61 311.55L639.61 309.37L642.61 311.55L641.46 308.02L644.46 305.85L640.76 305.85Z" fill="#0000ff" stroke="#000" stroke-width="1.35" stroke-linejoin="bevel"/><path d="M669.9 287.59L668.75 291.11L665.05 291.11L668.04 293.29L666.9 296.81L669.9 294.64L672.89 296.81L671.75 293.29L674.75 291.11L671.04 291.11Z" fill="#0000ff" stroke="#000" stroke-width="1.35" stroke-linejoin="bevel"/><path d="M700.18 272.86L699.03 276.38L695.33 276.38L698.33 278.56L697.18 282.08L700.18 279.91L703.18 282.08L702.03 278.56L705.03 276.38L701.33 276.38Z" fill="#0000ff" stroke="#000" stroke-width="1.35" stroke-linejoin="bevel"/><path d="M730.46 258.15L729.32 261.68L725.61 261.68L728.61 263.86L727.47 267.38L730.46 265.2L733.46 267.38L732.32 263.86L735.31 261.68L731.61 261.68Z" fill="#0000ff" stroke="#000" stroke-width="1.35" stroke-linejoin="bevel"/><path d="M760.75 243.49L759.6 247.02L755.9 247.02L758.9 249.19L757.75 252.72L760.75 250.54L763.75 252.72L762.6 249.19L765.6 247.02L761.89 247.02Z" fill="#0000ff" stroke="#000" stroke-width="1.35" stroke-linejoin="bevel"/><path d="M791.03 228.83L789.89 232.35L786.18 232.35L789.18 234.53L788.03 238.05L791.03 235.87L794.03 238.05L792.88 234.53L795.88 232.35L792.18 232.35Z" fill="#0000ff" stroke="#000" stroke-width="1.35" stroke-linejoin="bevel"/><path d="M821.32 214.11L820.17 217.64L816.47 217.64L819.46 219.81L818.32 223.34L821.32 221.16L824.31 223.34L823.17 219.81L826.17 217.64L822.46 217.64Z" fill="#0000ff" stroke="#000" stroke-width="1.35" stroke-linejoin="bevel"/>
<polyline points="94.5,598.5 96.01,597.2 97.53,595.92 99.04,594.63 100.56,593.36 102.07,592.1 103.59,590.84 105.1,589.6 106.61,588.36 108.13,587.13 109.64,585.9 111.16,584.69 112.67,583.49 114.18,582.29 115.7,581.1 117.21,579.93 118.73,578.76 120.24,577.6 121.76,576.45 123.27,575.31 124.78,574.18 126.3,573.06 127.81,571.96 129.33,570.87 130.84,569.8 132.35,568.73 133.87,567.68 135.38,566.63 136.9,565.59 138.41,564.56 139.93,563.53 141.44,562.5 142.95,561.48 144.47,560.46 145.98,559.44 147.5,558.42 149.01,557.39 150.53,556.36 152.04,555.32 153.55,554.28 155.07,553.23 156.58,552.17 158.1,551.12 159.61,550.05 161.12,548.99 162.64,547.92 164.15,546.85 165.67,545.78 167.18,544.71 168.7,543.64 170.21,542.57 171.72,541.5 173.24,540.44 174.75,539.37 176.27,538.31 177.78,537.24 179.3,536.18 180.81,535.13 182.32,534.08 183.84,533.03 185.35,531.99 186.87,530.95 188.38,529.91 189.89,528.88 191.41,527.85 192.92,526.82 194.44,525.8 195.95,524.77 197.47,523.75 198.98,522.73 200.49,521.71 202.01,520.7 203.52,519.68 205.04,518.67 206.55,517.66 208.06,516.65 209.58,515.64 211.09,514.64 212.61,513.63 214.12,512.63 215.64,511.63 217.15,510.62 218.66,509.63 220.18,508.63 221.69,507.63 223.21,506.64 224.72,505.64 226.24,504.65 227.75,503.66 229.26,502.68 230.78,501.69 232.29,500.7 233.81,499.72 235.32,498.74 236.83,497.76 238.35,496.78 239.86,495.81 241.38,494.83 242.89,493.86 244.41,492.89 245.92,491.92 247.43,490.95 248.95,489.99 250.46,489.02 251.98,488.06 253.49,487.09 255.01,486.13 256.52,485.17 258.03,484.2 259.55,483.24 261.06,482.28 262.58,481.32 264.09,480.36 265.6,479.41 267.12,478.45 268.63,477.49 270.15,476.54 271.66,475.58 273.18,474.62 274.69,473.67 276.2,472.72 277.72,471.76 279.23,470.81 280.75,469.86 282.26,468.91 283.77,467.96 285.29,467.01 286.8,466.06 288.32,465.11 289.83,464.16 291.35,463.21 292.86,462.27 294.37,461.32 295.89,460.37 297.4,459.43 298.92,458.48 300.43,457.54 301.95,456.6 303.46,455.65 304.97,454.71 306.49,453.77 308,452.82 309.52,451.88 311.03,450.94 312.54,450 314.06,449.06 315.57,448.12 317.09,447.18 318.6,446.24 320.12,445.3 321.63,444.37 323.14,443.43 324.66,442.49 326.17,441.55 327.69,440.62 329.2,439.68 330.72,438.75 332.23,437.81 333.74,436.87 335.26,435.94 336.77,435.01 338.29,434.07 339.8,433.14 341.31,432.2 342.83,431.27 344.34,430.34 345.86,429.4 347.37,428.47 348.89,427.54 350.4,426.61 351.91,425.68 353.43,424.74 354.94,423.81 356.46,422.88 357.97,421.95 359.49,421.02 361,420.09 362.51,419.16 364.03,418.23 365.54,417.3 367.06,416.37 368.57,415.44 370.08,414.51 371.6,413.58 373.11,412.65 374.63,411.72 376.14,410.79 377.66,409.86 379.17,408.94 380.68,408.01 382.2,407.08 383.71,406.15 385.23,405.22 386.74,404.29 388.25,403.36 389.77,402.44 391.28,401.51 392.8,400.58 394.31,399.65 395.83,398.72 397.34,397.8 398.85,396.87 400.37,395.94 401.88,395.01 403.4,394.08 404.91,393.16 406.43,392.23 407.94,391.31 409.45,390.38 410.97,389.45 412.48,388.53 414,387.6 415.51,386.68 417.02,385.75 418.54,384.83 420.05,383.91 421.57,382.98 423.08,382.06 424.6,381.14 426.11,380.22 427.62,379.29 429.14,378.37 430.65,377.45 432.17,376.53 433.68,375.61 435.19,374.69 436.71,373.77 438.22,372.85 439.74,371.93 441.25,371.01 442.77,370.09 444.28,369.17 445.79,368.25 447.31,367.33 448.82,366.41 450.34,365.49 451.85,364.58 453.37,363.66 454.88,362.74 456.39,361.82 457.91,360.91 459.42,359.99 460.94,359.07 462.45,358.16 463.96,357.24 465.48,356.33 466.99,355.41 468.51,354.49 470.02,353.58 471.54,352.66 473.05,351.75 474.56,350.83 476.08,349.92 477.59,349.01 479.11,348.09 480.62,347.18 482.14,346.27 483.65,345.35 485.16,344.44 486.68,343.53 488.19,342.61 489.71,341.7 491.22,340.79 492.73,339.88 494.25,338.96 495.76,338.05 497.28,337.14 498.79,336.23 500.31,335.32 501.82,334.41 503.33,333.5 504.85,332.59 506.36,331.68 507.88,330.76 509.39,329.85 510.9,328.94 512.42,328.03 513.93,327.12 515.45,326.21 516.96,325.31 518.48,324.4 519.99,323.49 521.5,322.58 523.02,321.67 524.53,320.76 526.05,319.85 527.56,318.94 529.08,318.03 530.59,317.12 532.1,316.22 533.62,315.31 535.13,314.4 536.65,313.49 538.16,312.58 539.67,311.68 541.19,310.77 542.7,309.86 544.22,308.95 545.73,308.05 547.25,307.14 548.76,306.23 550.27,305.33 551.79,304.42 553.3,303.51 554.82,302.61 556.33,301.7 557.85,300.79 559.36,299.89 560.87,298.98 562.39,298.08 563.9,297.17 565.42,296.27 566.93,295.36 568.44,294.46 569.96,293.55 571.47,292.65 572.99,291.74 574.5,290.84 576.02,289.93 577.53,289.03 579.04,288.13 580.56,287.22 582.07,286.32 583.59,285.42 585.1,284.51 586.62,283.61 588.13,282.71 589.64,281.81 591.16,280.9 592.67,280 594.19,279.1 595.7,278.2 597.21,277.3 598.73,276.39 600.24,275.49 601.76,274.59 603.27,273.69 604.79,272.79 606.3,271.89 607.81,270.99 609.33,270.09 610.84,269.19 612.36,268.29 613.87,267.39 615.38,266.49 616.9,265.59 618.41,264.69 619.93,263.79 621.44,262.89 622.96,261.99 624.47,261.1 625.98,260.2 627.5,259.3 629.01,258.4 630.53,257.5 632.04,256.61 633.56,255.71 635.07,254.81 636.58,253.91 638.1,253.02 639.61,252.12 641.13,251.22 642.64,250.32 644.15,249.43 645.67,248.53 647.18,247.64 648.7,246.74 650.21,245.84 651.73,244.95 653.24,244.05 654.75,243.16 656.27,242.26 657.78,241.37 659.3,240.47 660.81,239.57 662.33,238.68 663.84,237.79 665.35,236.89 666.87,236 668.38,235.1 669.9,234.21 671.41,233.31 672.92,232.42 674.44,231.53 675.95,230.63 677.47,229.74 678.98,228.85 680.5,227.95 682.01,227.06 683.52,226.17 685.04,225.27 686.55,224.38 688.07,223.49 689.58,222.6 691.09,221.71 692.61,220.81 694.12,219.92 695.64,219.03 697.15,218.14 698.67,217.25 700.18,216.35 701.69,215.46 703.21,214.57 704.72,213.68 706.24,212.79 707.75,211.9 709.27,211 710.78,210.11 712.29,209.22 713.81,208.33 715.32,207.44 716.84,206.54 718.35,205.65 719.86,204.76 721.38,203.87 722.89,202.98 724.41,202.08 725.92,201.19 727.44,200.3 728.95,199.41 730.46,198.52 731.98,197.63 733.49,196.73 735.01,195.84 736.52,194.95 738.03,194.06 739.55,193.17 741.06,192.28 742.58,191.39 744.09,190.5 745.61,189.61 747.12,188.72 748.63,187.83 750.15,186.94 751.66,186.05 753.18,185.16 754.69,184.27 756.21,183.38 757.72,182.49 759.23,181.61 760.75,180.72 762.26,179.83 763.78,178.94 765.29,178.06 766.8,177.17 768.32,176.28 769.83,175.4 771.35,174.51 772.86,173.63 774.38,172.74 775.89,171.86 777.4,170.98 778.92,170.09 780.43,169.21 781.95,168.33 783.46,167.45 784.98,166.57 786.49,165.69 788,164.81 789.52,163.93 791.03,163.05 792.55,162.17 794.06,161.29 795.57,160.41 797.09,159.54 798.6,158.66 800.12,157.78 801.63,156.91 803.15,156.03 804.66,155.16 806.17,154.29 807.69,153.42 809.2,152.54 810.72,151.67 812.23,150.8 813.75,149.93 815.26,149.06 816.77,148.2 818.29,147.33 819.8,146.46 821.32,145.6 822.83,144.73 824.34,143.87 825.86,143.01 827.37,142.15 828.89,141.29 830.4,140.43 831.92,139.58 833.43,138.72 834.94,137.87 836.46,137.02 837.97,136.16 839.49,135.31 841,134.46 842.51,133.61 844.03,132.77 845.54,131.92 847.06,131.07 848.57,130.22 850.09,129.38 851.6,128.53" fill="none" stroke="#00bfbf" stroke-width="2.0" stroke-dasharray="13.6 1.7 3.6 1.7" stroke-dashoffset="12.79"/>
<path d="M124.78 569.08L123.64 572.61L119.93 572.61L122.93 574.78L121.79 578.31L124.78 576.13L127.78 578.31L126.64 574.78L129.63 572.61L125.93 572.61Z" fill="#00bfbf" stroke="#000" stroke-width="1.35" stroke-linejoin="bevel"/><path d="M155.07 548.13L153.92 551.66L150.22 551.66L153.22 553.83L152.07 557.36L155.07 555.18L158.07 557.36L156.92 553.83L159.92 551.66L156.21 551.66Z" fill="#00bfbf" stroke="#000" stroke-width="1.35" stroke-linejoin="bevel"/><path d="M185.35 526.89L184.21 530.41L180.5 530.41L183.5 532.59L182.35 536.11L185.35 533.94L188.35 536.11L187.2 532.59L190.2 530.41L186.5 530.41Z" fill="#00bfbf" stroke="#000" stroke-width="1.35" stroke-linejoin="bevel"/><path d="M215.64 506.53L214.49 510.05L210.79 510.05L213.78 512.23L212.64 515.75L215.64 513.57L218.63 515.75L217.49 512.23L220.49 510.05L216.78 510.05Z" fill="#00bfbf" stroke="#000" stroke-width="1.35" stroke-linejoin="bevel"/><path d="M245.92 486.82L244.77 490.35L241.07 490.35L244.07 492.52L242.92 496.05L245.92 493.87L248.92 496.05L247.77 492.52L250.77 490.35L247.07 490.35Z" fill="#00bfbf" stroke="#000" stroke-width="1.35" stroke-linejoin="bevel"/><path d="M276.2 467.62L275.06 471.14L271.35 471.14L274.35 473.32L273.21 476.84L276.2 474.66L279.2 476.84L278.06 473.32L281.05 471.14L277.35 471.14Z" fill="#00bfbf" stroke="#000" stroke-width="1.35" stroke-linejoin="bevel"/><path d="M306.49 448.67L305.34 452.19L301.64 452.19L304.64 454.37L303.49 457.89L306.49 455.71L309.49 457.89L308.34 454.37L311.34 452.19L307.63 452.19Z" fill="#00bfbf" stroke="#000" stroke-width="1.35" stroke-linejoin="bevel"/><path d="M336.77 429.91L335.63 433.43L331.92 433.43L334.92 435.61L333.77 439.13L336.77 436.95L339.77 439.13L338.62 435.61L341.62 433.43L337.92 433.43Z" fill="#00bfbf" stroke="#000" stroke-width="1.35" stroke-linejoin="bevel"/><path d="M367.06 411.27L365.91 414.79L362.21 414.79L365.2 416.97L364.06 420.5L367.06 418.32L370.05 420.5L368.91 416.97L371.91 414.79L368.2 414.79Z" fill="#00bfbf" stroke="#000" stroke-width="1.35" stroke-linejoin="bevel"/><path d="M397.34 392.69L396.19 396.22L392.49 396.22L395.49 398.4L394.34 401.92L397.34 399.74L400.34 401.92L399.19 398.4L402.19 396.22L398.49 396.22Z" fill="#00bfbf" stroke="#000" stroke-width="1.35" stroke-linejoin="bevel"/><path d="M427.62 374.19L426.48 377.72L422.77 377.72L425.77 379.9L424.63 383.42L427.62 381.24L430.62 383.42L429.48 379.9L432.47 377.72L428.77 377.72Z" fill="#00bfbf" stroke="#000" stroke-width="1.35" stroke-linejoin="bevel"/><path d="M457.91 355.81L456.76 359.33L453.06 359.33L456.06 361.51L454.91 365.03L457.91 362.85L460.91 365.03L459.76 361.51L462.76 359.33L459.05 359.33Z" fill="#00bfbf" stroke="#000" stroke-width="1.35" stroke-linejoin="bevel"/><path d="M488.19 337.51L487.05 341.04L483.34 341.04L486.34 343.22L485.19 346.74L488.19 344.56L491.19 346.74L490.04 343.22L493.04 341.04L489.34 341.04Z" fill="#00bfbf" stroke="#000" stroke-width="1.35" stroke-linejoin="bevel"/><path d="M518.48 319.3L517.33 322.82L513.63 322.82L516.62 325L515.48 328.52L518.48 326.34L521.47 328.52L520.33 325L523.33 322.82L519.62 322.82Z" fill="#00bfbf" stroke="#000" stroke-width="1.35" stroke-linejoin="bevel"/><path d="M548.76 301.13L547.61 304.66L543.91 304.66L546.91 306.83L545.76 310.36L548.76 308.18L551.76 310.36L550.61 306.83L553.61 304.66L549.91 304.66Z" fill="#00bfbf" stroke="#000" stroke-width="1.35" stroke-linejoin="bevel"/><path d="M579.04 283.03L577.9 286.55L574.19 286.55L577.19 288.73L576.05 292.25L579.04 290.07L582.04 292.25L580.9 288.73L583.89 286.55L580.19 286.55Z" fill="#00bfbf" stroke="#000" stroke-width="1.35" stroke-linejoin="bevel"/><path d="M609.33 264.99L608.18 268.51L604.48 268.51L607.48 270.69L606.33 274.22L609.33 272.04L612.33 274.22L611.18 270.69L614.18 268.51L610.47 268.51Z" fill="#00bfbf" stroke="#000" stroke-width="1.35" stroke-linejoin="bevel"/><path d="M639.61 247.02L638.47 250.54L634.76 250.54L637.76 252.72L636.61 256.24L639.61 254.07L642.61 256.24L641.46 252.72L644.46 250.54L640.76 250.54Z" fill="#00bfbf" stroke="#000" stroke-width="1.35" stroke-linejoin="bevel"/><path d="M669.9 229.11L668.75 232.63L665.05 232.63L668.04 234.81L666.9 238.33L669.9 236.16L672.89 238.33L671.75 234.81L674.75 232.63L671.04 232.63Z" fill="#00bfbf" stroke="#000" stroke-width="1.35" stroke-linejoin="bevel"/><path d="M700.18 211.25L699.03 214.78L695.33 214.78L698.33 216.96L697.18 220.48L700.18 218.3L703.18 220.48L702.03 216.96L705.03 214.78L701.33 214.78Z" fill="#00bfbf" stroke="#000" stroke-width="1.35" stroke-linejoin="bevel"/><path d="M730.46 193.42L729.32 196.94L725.61 196.94L728.61 199.12L727.47 202.64L730.46 200.47L733.46 202.64L732.32 199.12L735.31 196.94L731.61 196.94Z" fill="#00bfbf" stroke="#000" stroke-width="1.35" stroke-linejoin="bevel"/><path d="M760.75 175.62L759.6 179.14L755.9 179.14L758.9 181.32L757.75 184.84L760.75 182.67L763.75 184.84L762.6 181.32L765.6 179.14L761.89 179.14Z" fill="#00bfbf" stroke="#000" stroke-width="1.35" stroke-linejoin="bevel"/><path d="M791.03 157.95L789.89 161.47L786.18 161.47L789.18 163.65L788.03 167.17L791.03 164.99L794.03 167.17L792.88 163.65L795.88 161.47L792.18 161.47Z" fill="#00bfbf" stroke="#000" stroke-width="1.35" stroke-linejoin="bevel"/><path d="M821.32 140.5L820.17 144.02L816.47 144.02L819.46 146.2L818.32 149.72L821.32 147.54L824.31 149.72L823.17 146.2L826.17 144.02L822.46 144.02Z" fill="#00bfbf" stroke="#000" stroke-width="1.35" stroke-linejoin="bevel"/>
<polyline points="94.5,598.5 96.01,597.11 97.53,595.74 99.04,594.37 100.56,593.01 102.07,591.65 103.59,590.31 105.1,588.97 106.61,587.64 108.13,586.33 109.64,585.02 111.16,583.72 112.67,582.42 114.18,581.14 115.7,579.87 117.21,578.6 118.73,577.35 120.24,576.1 121.76,574.87 123.27,573.64 124.78,572.42 126.3,571.22 127.81,570.02 129.33,568.84 130.84,567.66 132.35,566.5 133.87,565.34 135.38,564.19 136.9,563.05 138.41,561.92 139.93,560.79 141.44,559.67 142.95,558.56 144.47,557.45 145.98,556.34 147.5,555.24 149.01,554.15 150.53,553.05 152.04,551.96 153.55,550.88 155.07,549.79 156.58,548.71 158.1,547.63 159.61,546.56 161.12,545.49 162.64,544.43 164.15,543.37 165.67,542.32 167.18,541.27 168.7,540.23 170.21,539.19 171.72,538.15 173.24,537.12 174.75,536.09 176.27,535.06 177.78,534.03 179.3,533 180.81,531.98 182.32,530.96 183.84,529.93 185.35,528.91 186.87,527.89 188.38,526.88 189.89,525.86 191.41,524.85 192.92,523.84 194.44,522.83 195.95,521.83 197.47,520.82 198.98,519.82 200.49,518.82 202.01,517.83 203.52,516.83 205.04,515.84 206.55,514.84 208.06,513.85 209.58,512.86 211.09,511.87 212.61,510.89 214.12,509.9 215.64,508.92 217.15,507.93 218.66,506.94 220.18,505.96 221.69,504.97 223.21,503.99 224.72,503 226.24,502.02 227.75,501.04 229.26,500.06 230.78,499.08 232.29,498.1 233.81,497.13 235.32,496.16 236.83,495.2 238.35,494.24 239.86,493.28 241.38,492.33 242.89,491.38 244.41,490.44 245.92,489.5 247.43,488.57 248.95,487.64 250.46,486.71 251.98,485.79 253.49,484.86 255.01,483.94 256.52,483.01 258.03,482.09 259.55,481.17 261.06,480.25 262.58,479.34 264.09,478.42 265.6,477.51 267.12,476.59 268.63,475.68 270.15,474.77 271.66,473.87 273.18,472.96 274.69,472.05 276.2,471.15 277.72,470.24 279.23,469.34 280.75,468.44 282.26,467.54 283.77,466.64 285.29,465.75 286.8,464.85 288.32,463.96 289.83,463.06 291.35,462.17 292.86,461.28 294.37,460.39 295.89,459.5 297.4,458.61 298.92,457.72 300.43,456.84 301.95,455.95 303.46,455.07 304.97,454.19 306.49,453.3 308,452.42 309.52,451.54 311.03,450.67 312.54,449.79 314.06,448.91 315.57,448.03 317.09,447.16 318.6,446.28 320.12,445.41 321.63,444.54 323.14,443.67 324.66,442.79 326.17,441.92 327.69,441.05 329.2,440.18 330.72,439.32 332.23,438.45 333.74,437.58 335.26,436.72 336.77,435.85 338.29,434.99 339.8,434.12 341.31,433.26 342.83,432.4 344.34,431.53 345.86,430.67 347.37,429.81 348.89,428.95 350.4,428.09 351.91,427.23 353.43,426.37 354.94,425.51 356.46,424.65 357.97,423.8 359.49,422.94 361,422.08 362.51,421.23 364.03,420.37 365.54,419.51 367.06,418.66 368.57,417.8 370.08,416.95 371.6,416.1 373.11,415.24 374.63,414.39 376.14,413.53 377.66,412.68 379.17,411.83 380.68,410.97 382.2,410.12 383.71,409.27 385.23,408.42 386.74,407.57 388.25,406.71 389.77,405.86 391.28,405.01 392.8,404.16 394.31,403.31 395.83,402.46 397.34,401.6 398.85,400.75 400.37,399.9 401.88,399.05 403.4,398.2 404.91,397.35 406.43,396.51 407.94,395.66 409.45,394.81 410.97,393.96 412.48,393.12 414,392.27 415.51,391.43 417.02,390.58 418.54,389.74 420.05,388.9 421.57,388.05 423.08,387.21 424.6,386.37 426.11,385.53 427.62,384.69 429.14,383.85 430.65,383.01 432.17,382.17 433.68,381.33 435.19,380.49 436.71,379.66 438.22,378.82 439.74,377.98 441.25,377.15 442.77,376.31 444.28,375.48 445.79,374.64 447.31,373.81 448.82,372.98 450.34,372.14 451.85,371.31 453.37,370.48 454.88,369.65 456.39,368.82 457.91,367.99 459.42,367.16 460.94,366.33 462.45,365.5 463.96,364.67 465.48,363.85 466.99,363.02 468.51,362.19 470.02,361.37 471.54,360.54 473.05,359.72 474.56,358.89 476.08,358.07 477.59,357.24 479.11,356.42 480.62,355.6 482.14,354.78 483.65,353.96 485.16,353.13 486.68,352.31 488.19,351.49 489.71,350.67 491.22,349.85 492.73,349.04 494.25,348.22 495.76,347.4 497.28,346.58 498.79,345.76 500.31,344.95 501.82,344.13 503.33,343.32 504.85,342.5 506.36,341.69 507.88,340.87 509.39,340.06 510.9,339.25 512.42,338.43 513.93,337.62 515.45,336.81 516.96,336 518.48,335.19 519.99,334.37 521.5,333.56 523.02,332.75 524.53,331.94 526.05,331.14 527.56,330.33 529.08,329.52 530.59,328.71 532.1,327.9 533.62,327.1 535.13,326.29 536.65,325.48 538.16,324.68 539.67,323.87 541.19,323.07 542.7,322.26 544.22,321.46 545.73,320.66 547.25,319.85 548.76,319.05 550.27,318.25 551.79,317.45 553.3,316.65 554.82,315.85 556.33,315.05 557.85,314.25 559.36,313.45 560.87,312.66 562.39,311.86 563.9,311.06 565.42,310.27 566.93,309.48 568.44,308.68 569.96,307.89 571.47,307.1 572.99,306.31 574.5,305.51 576.02,304.72 577.53,303.93 579.04,303.15 580.56,302.36 582.07,301.57 583.59,300.78 585.1,300 586.62,299.21 588.13,298.42 589.64,297.64 591.16,296.85 592.67,296.07 594.19,295.29 595.7,294.5 597.21,293.72 598.73,292.94 600.24,292.16 601.76,291.37 603.27,290.59 604.79,289.81 606.3,289.03 607.81,288.25 609.33,287.47 610.84,286.69 612.36,285.92 613.87,285.14 615.38,284.36 616.9,283.58 618.41,282.8 619.93,282.03 621.44,281.25 622.96,280.47 624.47,279.7 625.98,278.92 627.5,278.15 629.01,277.37 630.53,276.59 632.04,275.82 633.56,275.04 635.07,274.27 636.58,273.49 638.1,272.72 639.61,271.95 641.13,271.17 642.64,270.4 644.15,269.62 645.67,268.85 647.18,268.08 648.7,267.3 650.21,266.53 651.73,265.75 653.24,264.98 654.75,264.21 656.27,263.43 657.78,262.66 659.3,261.89 660.81,261.11 662.33,260.34 663.84,259.57 665.35,258.79 666.87,258.02 668.38,257.25 669.9,256.47 671.41,255.7 672.92,254.93 674.44,254.15 675.95,253.38 677.47,252.6 678.98,251.83 680.5,251.05 682.01,250.28 683.52,249.5 685.04,248.73 686.55,247.95 688.07,247.18 689.58,246.4 691.09,245.63 692.61,244.85 694.12,244.07 695.64,243.3 697.15,242.52 698.67,241.74 700.18,240.97 701.69,240.19 703.21,239.41 704.72,238.63 706.24,237.86 707.75,237.08 709.27,236.3 710.78,235.52 712.29,234.74 713.81,233.96 715.32,233.18 716.84,232.41 718.35,231.63 719.86,230.85 721.38,230.07 722.89,229.29 724.41,228.51 725.92,227.73 727.44,226.95 728.95,226.17 730.46,225.39 731.98,224.62 733.49,223.84 735.01,223.06 736.52,222.28 738.03,221.5 739.55,220.72 741.06,219.94 742.58,219.16 744.09,218.39 745.61,217.61 747.12,216.83 748.63,216.05 750.15,215.27 751.66,214.49 753.18,213.72 754.69,212.94 756.21,212.16 757.72,211.38 759.23,210.61 760.75,209.83 762.26,209.05 763.78,208.28 765.29,207.5 766.8,206.72 768.32,205.95 769.83,205.17 771.35,204.4 772.86,203.62 774.38,202.85 775.89,202.07 777.4,201.3 778.92,200.52 780.43,199.75 781.95,198.98 783.46,198.2 784.98,197.43 786.49,196.66 788,195.88 789.52,195.11 791.03,194.34 792.55,193.57 794.06,192.8 795.57,192.03 797.09,191.26 798.6,190.49 800.12,189.72 801.63,188.95 803.15,188.18 804.66,187.41 806.17,186.65 807.69,185.88 809.2,185.11 810.72,184.35 812.23,183.58 813.75,182.82 815.26,182.05 816.77,181.29 818.29,180.52 819.8,179.76 821.32,179 822.83,178.24 824.34,177.47 825.86,176.72 827.37,175.96 828.89,175.2 830.4,174.44 831.92,173.69 833.43,172.93 834.94,172.18 836.46,171.42 837.97,170.67 839.49,169.92 841,169.16 842.51,168.41 844.03,167.66 845.54,166.91 847.06,166.16 848.57,165.41 850.09,164.66 851.6,163.91" fill="none" stroke="#bf00bf" stroke-width="2.0"/>
<path d="M124.78 567.32L123.64 570.85L119.93 570.85L122.93 573.02L121.79 576.55L124.78 574.37L127.78 576.55L126.64 573.02L129.63 570.85L125.93 570.85Z" fill="#bf00bf" stroke="#000" stroke-width="1.35" stroke-linejoin="bevel"/><path d="M155.07 544.69L153.92 548.21L150.22 548.21L153.22 550.39L152.07 553.91L155.07 551.74L158.07 553.91L156.92 550.39L159.92 548.21L156.21 548.21Z" fill="#bf00bf" stroke="#000" stroke-width="1.35" stroke-linejoin="bevel"/><path d="M185.35 523.81L184.21 527.34L180.5 527.34L183.5 529.51L182.35 533.04L185.35 530.86L188.35 533.04L187.2 529.51L190.2 527.34L186.5 527.34Z" fill="#bf00bf" stroke="#000" stroke-width="1.35" stroke-linejoin="bevel"/><path d="M215.64 503.82L214.49 507.34L210.79 507.34L213.78 509.52L212.64 513.04L215.64 510.86L218.63 513.04L217.49 509.52L220.49 507.34L216.78 507.34Z" fill="#bf00bf" stroke="#000" stroke-width="1.35" stroke-linejoin="bevel"/><path d="M245.92 484.4L244.77 487.93L241.07 487.93L244.07 490.11L242.92 493.63L245.92 491.45L248.92 493.63L247.77 490.11L250.77 487.93L247.07 487.93Z" fill="#bf00bf" stroke="#000" stroke-width="1.35" stroke-linejoin="bevel"/><path d="M276.2 466.05L275.06 469.57L271.35 469.57L274.35 471.75L273.21 475.27L276.2 473.1L279.2 475.27L278.06 471.75L281.05 469.57L277.35 469.57Z" fill="#bf00bf" stroke="#000" stroke-width="1.35" stroke-linejoin="bevel"/><path d="M306.49 448.2L305.34 451.73L301.64 451.73L304.64 453.91L303.49 457.43L306.49 455.25L309.49 457.43L308.34 453.91L311.34 451.73L307.63 451.73Z" fill="#bf00bf" stroke="#000" stroke-width="1.35" stroke-linejoin="bevel"/><path d="M336.77 430.75L335.63 434.27L331.92 434.27L334.92 436.45L333.77 439.98L336.77 437.8L339.77 439.98L338.62 436.45L341.62 434.27L337.92 434.27Z" fill="#bf00bf" stroke="#000" stroke-width="1.35" stroke-linejoin="bevel"/><path d="M367.06 413.56L365.91 417.08L362.21 417.08L365.2 419.26L364.06 422.78L367.06 420.61L370.05 422.78L368.91 419.26L371.91 417.08L368.2 417.08Z" fill="#bf00bf" stroke="#000" stroke-width="1.35" stroke-linejoin="bevel"/><path d="M397.34 396.5L396.19 400.03L392.49 400.03L395.49 402.21L394.34 405.73L397.34 403.55L400.34 405.73L399.19 402.21L402.19 400.03L398.49 400.03Z" fill="#bf00bf" stroke="#000" stroke-width="1.35" stroke-linejoin="bevel"/><path d="M427.62 379.59L426.48 383.11L422.77 383.11L425.77 385.29L424.63 388.81L427.62 386.64L430.62 388.81L429.48 385.29L432.47 383.11L428.77 383.11Z" fill="#bf00bf" stroke="#000" stroke-width="1.35" stroke-linejoin="bevel"/><path d="M457.91 362.89L456.76 366.41L453.06 366.41L456.06 368.59L454.91 372.12L457.91 369.94L460.91 372.12L459.76 368.59L462.76 366.41L459.05 366.41Z" fill="#bf00bf" stroke="#000" stroke-width="1.35" stroke-linejoin="bevel"/><path d="M488.19 346.39L487.05 349.92L483.34 349.92L486.34 352.1L485.19 355.62L488.19 353.44L491.19 355.62L490.04 352.1L493.04 349.92L489.34 349.92Z" fill="#bf00bf" stroke="#000" stroke-width="1.35" stroke-linejoin="bevel"/><path d="M518.48 330.09L517.33 333.61L513.63 333.61L516.62 335.79L515.48 339.31L518.48 337.13L521.47 339.31L520.33 335.79L523.33 333.61L519.62 333.61Z" fill="#bf00bf" stroke="#000" stroke-width="1.35" stroke-linejoin="bevel"/><path d="M548.76 313.95L547.61 317.48L543.91 317.48L546.91 319.65L545.76 323.18L548.76 321L551.76 323.18L550.61 319.65L553.61 317.48L549.91 317.48Z" fill="#bf00bf" stroke="#000" stroke-width="1.35" stroke-linejoin="bevel"/><path d="M579.04 298.05L577.9 301.57L574.19 301.57L577.19 303.75L576.05 307.27L579.04 305.09L582.04 307.27L580.9 303.75L583.89 301.57L580.19 301.57Z" fill="#bf00bf" stroke="#000" stroke-width="1.35" stroke-linejoin="bevel"/><path d="M609.33 282.37L608.18 285.9L604.48 285.9L607.48 288.08L606.33 291.6L609.33 289.42L612.33 291.6L611.18 288.08L614.18 285.9L610.47 285.9Z" fill="#bf00bf" stroke="#000" stroke-width="1.35" stroke-linejoin="bevel"/><path d="M639.61 266.85L638.47 270.37L634.76 270.37L637.76 272.55L636.61 276.07L639.61 273.89L642.61 276.07L641.46 272.55L644.46 270.37L640.76 270.37Z" fill="#bf00bf" stroke="#000" stroke-width="1.35" stroke-linejoin="bevel"/><path d="M669.9 251.37L668.75 254.9L665.05 254.9L668.04 257.07L666.9 260.6L669.9 258.42L672.89 260.6L671.75 257.07L674.75 254.9L671.04 254.9Z" fill="#bf00bf" stroke="#000" stroke-width="1.35" stroke-linejoin="bevel"/><path d="M700.18 235.87L699.03 239.39L695.33 239.39L698.33 241.57L697.18 245.09L700.18 242.91L703.18 245.09L702.03 241.57L705.03 239.39L701.33 239.39Z" fill="#bf00bf" stroke="#000" stroke-width="1.35" stroke-linejoin="bevel"/><path d="M730.46 220.29L729.32 223.82L725.61 223.82L728.61 226L727.47 229.52L730.46 227.34L733.46 229.52L732.32 226L735.31 223.82L731.61 223.82Z" fill="#bf00bf" stroke="#000" stroke-width="1.35" stroke-linejoin="bevel"/><path d="M760.75 204.73L759.6 208.25L755.9 208.25L758.9 210.43L757.75 213.96L760.75 211.78L763.75 213.96L762.6 210.43L765.6 208.25L761.89 208.25Z" fill="#bf00bf" stroke="#000" stroke-width="1.35" stroke-linejoin="bevel"/><path d="M791.03 189.24L789.89 192.77L786.18 192.77L789.18 194.94L788.03 198.47L791.03 196.29L794.03 198.47L792.88 194.94L795.88 192.77L792.18 192.77Z" fill="#bf00bf" stroke="#000" stroke-width="1.35" stroke-linejoin="bevel"/><path d="M821.32 173.9L820.17 177.42L816.47 177.42L819.46 179.6L818.32 183.12L821.32 180.95L824.31 183.12L823.17 179.6L826.17 177.42L822.46 177.42Z" fill="#bf00bf" stroke="#000" stroke-width="1.35" stroke-linejoin="bevel"/>
</g>
<g>
<rect x="94.5" y="12.6" width="757.1" height="586.3" fill="none" stroke="#000" stroke-width="2.0"/>
<path d="M94.5 598.9v-6.7 M94.5 12.6v6.7" stroke="#000" stroke-width="1.15"/>
<path d="M245.92 598.9v-6.7 M245.92 12.6v6.7" stroke="#000" stroke-width="1.15"/>
<path d="M397.34 598.9v-6.7 M397.34 12.6v6.7" stroke="#000" stroke-width="1.15"/>
<path d="M548.76 598.9v-6.7 M548.76 12.6v6.7" stroke="#000" stroke-width="1.15"/>
<path d="M700.18 598.9v-6.7 M700.18 12.6v6.7" stroke="#000" stroke-width="1.15"/>
<path d="M851.6 598.9v-6.7 M851.6 12.6v6.7" stroke="#000" stroke-width="1.15"/>
<path d="M94.5 598.9h6.7 M851.6 598.9h-6.7" stroke="#000" stroke-width="1.15"/>
<path d="M94.5 525.61h6.7 M851.6 525.61h-6.7" stroke="#000" stroke-width="1.15"/>
<path d="M94.5 452.32h6.7 M851.6 452.32h-6.7" stroke="#000" stroke-width="1.15"/>
<path d="M94.5 379.04h6.7 M851.6 379.04h-6.7" stroke="#000" stroke-width="1.15"/>
<path d="M94.5 305.75h6.7 M851.6 305.75h-6.7" stroke="#000" stroke-width="1.15"/>
<path d="M94.5 232.46h6.7 M851.6 232.46h-6.7" stroke="#000" stroke-width="1.15"/>
<path d="M94.5 159.18h6.7 M851.6 159.18h-6.7" stroke="#000" stroke-width="1.15"/>
<path d="M94.5 85.89h6.7 M851.6 85.89h-6.7" stroke="#000" stroke-width="1.15"/>
<path d="M94.5 12.6h6.7 M851.6 12.6h-6.7" stroke="#000" stroke-width="1.15"/>
</g>
<g>
<text x="94.5" y="628.3" text-anchor="middle" font-size="25.5">0</text>
<text x="245.92" y="628.3" text-anchor="middle" font-size="25.5">1000</text>
<text x="397.34" y="628.3" text-anchor="middle" font-size="25.5">2000</text>
<text x="548.76" y="628.3" text-anchor="middle" font-size="25.5">3000</text>
<text x="700.18" y="628.3" text-anchor="middle" font-size="25.5">4000</text>
<text x="851.6" y="628.3" text-anchor="middle" font-size="25.5">5000</text>
<text x="87.6" y="607" text-anchor="end" font-size="26.3" textLength="12.2" lengthAdjust="spacingAndGlyphs">0</text>
<text x="87.6" y="533.71" text-anchor="end" font-size="26.3" textLength="50.8" lengthAdjust="spacingAndGlyphs">1000</text>
<text x="87.6" y="460.43" text-anchor="end" font-size="26.3" textLength="50.8" lengthAdjust="spacingAndGlyphs">2000</text>
<text x="87.6" y="387.14" text-anchor="end" font-size="26.3" textLength="50.8" lengthAdjust="spacingAndGlyphs">3000</text>
<text x="87.6" y="313.85" text-anchor="end" font-size="26.3" textLength="50.8" lengthAdjust="spacingAndGlyphs">4000</text>
<text x="87.6" y="240.56" text-anchor="end" font-size="26.3" textLength="50.8" lengthAdjust="spacingAndGlyphs">5000</text>
<text x="87.6" y="167.28" text-anchor="end" font-size="26.3" textLength="50.8" lengthAdjust="spacingAndGlyphs">6000</text>
<text x="87.6" y="93.99" text-anchor="end" font-size="26.3" textLength="50.8" lengthAdjust="spacingAndGlyphs">7000</text>
<text x="87.6" y="20.7" text-anchor="end" font-size="26.3" textLength="50.8" lengthAdjust="spacingAndGlyphs">8000</text>
<text x="415.2" y="662.1" font-size="30.5" font-style="italic" textLength="116.6" lengthAdjust="spacing">Iteration</text>
<text transform="translate(21 424.5) rotate(-90)" font-size="30.5" font-style="italic"><tspan x="0" textLength="148.5" lengthAdjust="spacing">Cumulative</tspan> <tspan x="158.6" textLength="78.4" lengthAdjust="spacing">regret</tspan></text>
</g>
<g>
<rect x="863" y="133.3" width="336.3" height="344.5" fill="#fff" stroke="#000" stroke-width="1.8"/>
<path d="M880 151.4H913" stroke="#0000ff" stroke-width="2.0" fill="none"/>
<rect x="875" y="146.4" width="10" height="10" fill="#0000ff" stroke="#000" stroke-width="1.25"/><rect x="908" y="146.4" width="10" height="10" fill="#0000ff" stroke="#000" stroke-width="1.25"/>
<text x="939.3" y="160.7" font-size="26.0" font-style="italic" textLength="72.3" lengthAdjust="spacing">CUCB</text>
<path d="M880 185.2H913" stroke="#008000" stroke-width="2.0" fill="none"/>
<circle cx="880" cy="185.2" r="5" fill="#008000" stroke="#000" stroke-width="1.25"/><circle cx="913" cy="185.2" r="5" fill="#008000" stroke="#000" stroke-width="1.25"/>
<text x="939.3" y="194.5" font-size="26.0" font-style="italic" textLength="89.4" lengthAdjust="spacing">CUCBV</text>
<path d="M880 219H913" stroke="#bfbf00" stroke-width="2.0" fill="none"/>
<path d="M875 214L885 214L880 224Z" fill="#bfbf00" stroke="#000" stroke-width="1.25" stroke-linejoin="miter"/><path d="M908 214L918 214L913 224Z" fill="#bfbf00" stroke="#000" stroke-width="1.25" stroke-linejoin="miter"/>
<text x="940.3" y="228.3" font-size="26.0" font-style="italic" textLength="72.6" lengthAdjust="spacing">MOSS</text>
<path d="M880 252.8H913" stroke="#000" stroke-width="2.0" fill="none"/>
<path d="M880 247.8L875.67 250.3L875.67 255.3L880 257.8L884.33 255.3L884.33 250.3Z" fill="#000" stroke="#000" stroke-width="1.25"/><path d="M913 247.8L908.67 250.3L908.67 255.3L913 257.8L917.33 255.3L917.33 250.3Z" fill="#000" stroke="#000" stroke-width="1.25"/>
<text y="261.8" font-size="26.0" font-style="italic"><tspan x="938" textLength="109.6" lengthAdjust="spacing">Thompson</tspan> <tspan x="1055.8" textLength="99.2" lengthAdjust="spacing">Sampling</tspan></text>
<path d="M880 286.6H913" stroke="#000" stroke-width="2.0" fill="none"/>
<path d="M880 281.5L878.85 285.02L875.15 285.02L878.15 287.2L877 290.73L880 288.55L883 290.73L881.85 287.2L884.85 285.02L881.15 285.02Z" fill="#000" stroke="#000" stroke-width="1.35" stroke-linejoin="bevel"/><path d="M913 281.5L911.85 285.02L908.15 285.02L911.15 287.2L910 290.73L913 288.55L916 290.73L914.85 287.2L917.85 285.02L914.15 285.02Z" fill="#000" stroke="#000" stroke-width="1.35" stroke-linejoin="bevel"/>
<path d="M896.2 280.7L894.81 284.98L890.3 284.98L893.95 287.63L892.56 291.92L896.2 289.27L899.84 291.92L898.45 287.63L902.1 284.98L897.59 284.98Z" fill="#000" stroke="#000" stroke-width="0.9" stroke-linejoin="miter" stroke-miterlimit="6"/>
<text y="295.4" font-size="26.0" font-style="italic"><tspan x="940.3" textLength="76.4" lengthAdjust="spacing">Hidden</tspan><tspan x="1019.2" textLength="34.1" lengthAdjust="spacing">Lin</tspan><tspan x="1055" textLength="54" lengthAdjust="spacing">UCB</tspan><tspan x="1111" dy="-1.9" font-size="11" font-style="normal" font-weight="bold" textLength="5.6" lengthAdjust="spacingAndGlyphs">_</tspan><tspan x="1117.4" dy="1.9" textLength="13" lengthAdjust="spacingAndGlyphs">p</tspan><tspan x="1137.2" font-style="normal" textLength="15.8" lengthAdjust="spacingAndGlyphs">=</tspan><tspan x="1162" font-style="normal" textLength="28" lengthAdjust="spacingAndGlyphs">1.0</tspan></text>
<path d="M880 320.4H913" stroke="#ff0000" stroke-width="2.0" fill="none"/>
<path d="M896.6 312.5V328.3" stroke="#ff0000" stroke-width="1.8" fill="none"/>
<path d="M880 315.3L878.85 318.82L875.15 318.82L878.15 321L877 324.53L880 322.35L883 324.53L881.85 321L884.85 318.82L881.15 318.82Z" fill="#ff0000" stroke="#000" stroke-width="1.35" stroke-linejoin="bevel"/><path d="M913 315.3L911.85 318.82L908.15 318.82L911.15 321L910 324.53L913 322.35L916 324.53L914.85 321L917.85 318.82L914.15 318.82Z" fill="#ff0000" stroke="#000" stroke-width="1.35" stroke-linejoin="bevel"/>
<text y="329.2" font-size="26.0" font-style="italic"><tspan x="940.3" textLength="76.4" lengthAdjust="spacing">Hidden</tspan><tspan x="1019.2" textLength="34.1" lengthAdjust="spacing">Lin</tspan><tspan x="1055" textLength="54" lengthAdjust="spacing">UCB</tspan><tspan x="1111" dy="-1.9" font-size="11" font-style="normal" font-weight="bold" textLength="5.6" lengthAdjust="spacingAndGlyphs">_</tspan><tspan x="1117.4" dy="1.9" textLength="13" lengthAdjust="spacingAndGlyphs">p</tspan><tspan x="1137.2" font-style="normal" textLength="15.8" lengthAdjust="spacingAndGlyphs">=</tspan><tspan x="1162" font-style="normal" textLength="28" lengthAdjust="spacingAndGlyphs">0.7</tspan></text>
<path d="M890.7 354.2H899.4M904.9 354.2H913" stroke="#008000" stroke-width="2.0"/>
<path d="M880 349.1L878.85 352.62L875.15 352.62L878.15 354.8L877 358.33L880 356.15L883 358.33L881.85 354.8L884.85 352.62L881.15 352.62Z" fill="#008000" stroke="#000" stroke-width="1.35" stroke-linejoin="bevel"/><path d="M913 349.1L911.85 352.62L908.15 352.62L911.15 354.8L910 358.33L913 356.15L916 358.33L914.85 354.8L917.85 352.62L914.15 352.62Z" fill="#008000" stroke="#000" stroke-width="1.35" stroke-linejoin="bevel"/>
<text y="363" font-size="26.0" font-style="italic"><tspan x="940.3" textLength="76.4" lengthAdjust="spacing">Hidden</tspan><tspan x="1019.2" textLength="34.1" lengthAdjust="spacing">Lin</tspan><tspan x="1055" textLength="54" lengthAdjust="spacing">UCB</tspan><tspan x="1111" dy="-1.9" font-size="11" font-style="normal" font-weight="bold" textLength="5.6" lengthAdjust="spacingAndGlyphs">_</tspan><tspan x="1117.4" dy="1.9" textLength="13" lengthAdjust="spacingAndGlyphs">p</tspan><tspan x="1137.2" font-style="normal" textLength="15.8" lengthAdjust="spacingAndGlyphs">=</tspan><tspan x="1162" font-style="normal" textLength="28" lengthAdjust="spacingAndGlyphs">0.5</tspan></text>
<path d="M880 388H913" stroke="#0000ff" stroke-width="2.0" fill="none" stroke-dasharray="3 4.5"/>
<path d="M880 382.9L878.85 386.42L875.15 386.42L878.15 388.6L877 392.13L880 389.95L883 392.13L881.85 388.6L884.85 386.42L881.15 386.42Z" fill="#0000ff" stroke="#000" stroke-width="1.35" stroke-linejoin="bevel"/><path d="M913 382.9L911.85 386.42L908.15 386.42L911.15 388.6L910 392.13L913 389.95L916 392.13L914.85 388.6L917.85 386.42L914.15 386.42Z" fill="#0000ff" stroke="#000" stroke-width="1.35" stroke-linejoin="bevel"/>
<text y="396.8" font-size="26.0" font-style="italic"><tspan x="940.3" textLength="76.4" lengthAdjust="spacing">Hidden</tspan><tspan x="1019.2" textLength="34.1" lengthAdjust="spacing">Lin</tspan><tspan x="1055" textLength="54" lengthAdjust="spacing">UCB</tspan><tspan x="1111" dy="-1.9" font-size="11" font-style="normal" font-weight="bold" textLength="5.6" lengthAdjust="spacingAndGlyphs">_</tspan><tspan x="1117.4" dy="1.9" textLength="13" lengthAdjust="spacingAndGlyphs">p</tspan><tspan x="1137.2" font-style="normal" textLength="15.8" lengthAdjust="spacingAndGlyphs">=</tspan><tspan x="1162" font-style="normal" textLength="28" lengthAdjust="spacingAndGlyphs">0.2</tspan></text>
<path d="M880 421.8H913" stroke="#00bfbf" stroke-width="2.0" fill="none" stroke-dasharray="13.5 2.7 3.5 2.7"/>
<path d="M880 416.7L878.85 420.22L875.15 420.22L878.15 422.4L877 425.93L880 423.75L883 425.93L881.85 422.4L884.85 420.22L881.15 420.22Z" fill="#00bfbf" stroke="#000" stroke-width="1.35" stroke-linejoin="bevel"/><path d="M913 416.7L911.85 420.22L908.15 420.22L911.15 422.4L910 425.93L913 423.75L916 425.93L914.85 422.4L917.85 420.22L914.15 420.22Z" fill="#00bfbf" stroke="#000" stroke-width="1.35" stroke-linejoin="bevel"/>
<text y="430.6" font-size="26.0" font-style="italic"><tspan x="940.3" textLength="76.4" lengthAdjust="spacing">Hidden</tspan><tspan x="1019.2" textLength="34.1" lengthAdjust="spacing">Lin</tspan><tspan x="1055" textLength="54" lengthAdjust="spacing">UCB</tspan><tspan x="1111" dy="-1.9" font-size="11" font-style="normal" font-weight="bold" textLength="5.6" lengthAdjust="spacingAndGlyphs">_</tspan><tspan x="1117.4" dy="1.9" textLength="13" lengthAdjust="spacingAndGlyphs">p</tspan><tspan x="1137.2" font-style="normal" textLength="15.8" lengthAdjust="spacingAndGlyphs">=</tspan><tspan x="1162" font-style="normal" textLength="28" lengthAdjust="spacingAndGlyphs">0.1</tspan></text>
<path d="M880 454.8H913" stroke="#bf00bf" stroke-width="2.0" fill="none"/>
<path d="M880 449.7L878.85 453.22L875.15 453.22L878.15 455.4L877 458.93L880 456.75L883 458.93L881.85 455.4L884.85 453.22L881.15 453.22Z" fill="#bf00bf" stroke="#000" stroke-width="1.35" stroke-linejoin="bevel"/><path d="M913 449.7L911.85 453.22L908.15 453.22L911.15 455.4L910 458.93L913 456.75L916 458.93L914.85 455.4L917.85 453.22L914.15 453.22Z" fill="#bf00bf" stroke="#000" stroke-width="1.35" stroke-linejoin="bevel"/>
<text y="460.8" font-size="26.0" font-style="italic"><tspan x="940.3" textLength="76.4" lengthAdjust="spacing">Hidden</tspan><tspan x="1019.2" textLength="34.1" lengthAdjust="spacing">Lin</tspan><tspan x="1055" textLength="54" lengthAdjust="spacing">UCB</tspan><tspan x="1111" dy="-1.9" font-size="11" font-style="normal" font-weight="bold" textLength="5.6" lengthAdjust="spacingAndGlyphs">_</tspan><tspan x="1118.8" dy="1.9" textLength="17.4" lengthAdjust="spacingAndGlyphs">K</tspan><tspan x="1136.2" dy="2.7" font-size="16.8" textLength="5.6" lengthAdjust="spacingAndGlyphs">t</tspan><tspan x="1143.2" dy="1.1" font-size="16.8" font-style="normal" textLength="11" lengthAdjust="spacingAndGlyphs">&#x2212;</tspan><tspan x="1155.6" dy="-1.1" font-size="16.8" font-style="normal" textLength="8.4" lengthAdjust="spacingAndGlyphs">1</tspan></text>
</g>
</svg>
</body></html>
